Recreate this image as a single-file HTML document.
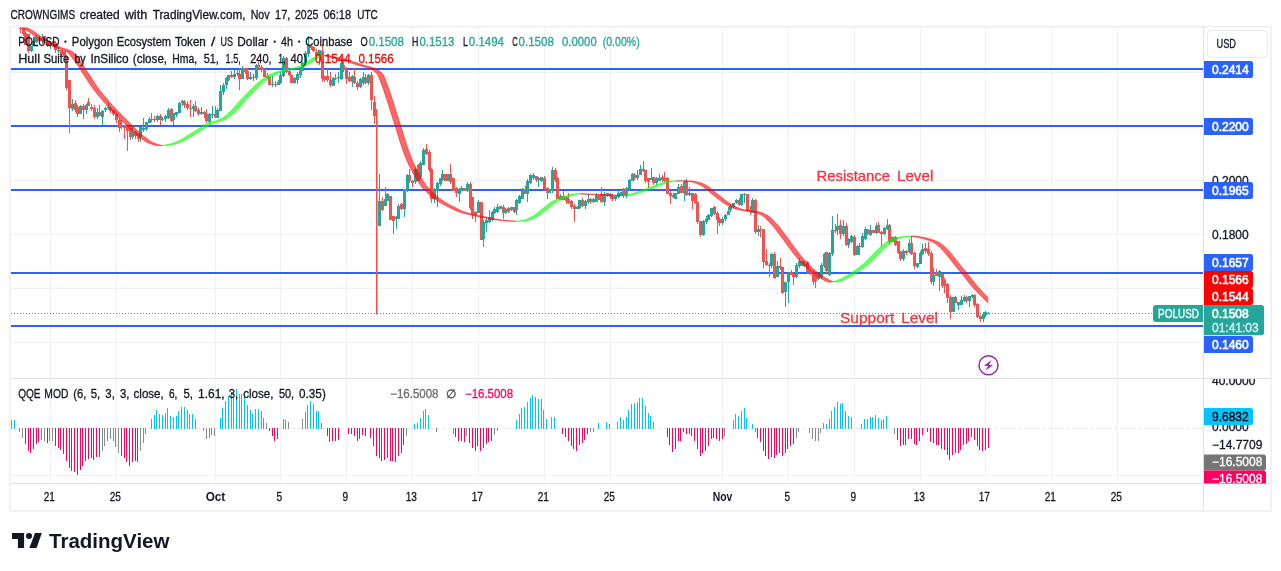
<!DOCTYPE html>
<html><head><meta charset="utf-8"><title>POLUSD chart</title><style>html,body{margin:0;padding:0;background:#fff;overflow:hidden}text{fill:currentColor;stroke:currentColor;stroke-width:.3px}.b{stroke-width:0}.sb{stroke-width:.6px}svg{display:block;will-change:transform;transform:translateZ(0)}</style></head><body><svg width="1281" height="571" viewBox="0 0 1281 571" font-family="Liberation Sans, sans-serif" color="#131722"><rect x="0" y="0" width="1281" height="571" fill="#ffffff"/>
<g font-size="12" fill="#131722" color="#131722">
<text x="10.5" y="18.8" textLength="64.6" lengthAdjust="spacingAndGlyphs">CROWNGIMS</text>
<text x="79.7" y="18.8" textLength="40.0" lengthAdjust="spacingAndGlyphs">created</text>
<text x="124.7" y="18.8" textLength="22.5" lengthAdjust="spacingAndGlyphs">with</text>
<text x="152.7" y="18.8" textLength="92.9" lengthAdjust="spacingAndGlyphs">TradingView.com,</text>
<text x="250.7" y="18.8" textLength="18.9" lengthAdjust="spacingAndGlyphs">Nov</text>
<text x="275.1" y="18.8" textLength="15.1" lengthAdjust="spacingAndGlyphs">17,</text>
<text x="295" y="18.8" textLength="23.5" lengthAdjust="spacingAndGlyphs">2025</text>
<text x="323.4" y="18.8" textLength="27.8" lengthAdjust="spacingAndGlyphs">06:18</text>
<text x="357.2" y="18.8" textLength="20.6" lengthAdjust="spacingAndGlyphs">UTC</text>
</g>
<path d="M50.5 26.5V483.5M116.5 26.5V483.5M215.5 26.5V483.5M280.5 26.5V483.5M346.5 26.5V483.5M412.5 26.5V483.5M478.5 26.5V483.5M544.5 26.5V483.5M610.5 26.5V483.5M722.5 26.5V483.5M788.5 26.5V483.5M854.5 26.5V483.5M920.5 26.5V483.5M985.5 26.5V483.5M1051.5 26.5V483.5M1117.5 26.5V483.5M10.5 72.5H1203.5M10.5 126.5H1203.5M10.5 180.5H1203.5M10.5 234.5H1203.5M10.5 288.5H1203.5M10.5 342.5H1203.5M10.5 475.5H1203.5" stroke="#f0f1f3" stroke-width="1" fill="none"/>
<defs><clipPath id="cm"><rect x="10.5" y="26.5" width="1193.0" height="352.0"/></clipPath><clipPath id="cs"><rect x="10.5" y="378.5" width="1193.0" height="105.0"/></clipPath><clipPath id="cb"><rect x="1203.5" y="379.0" width="67.0" height="105.0"/></clipPath><clipPath id="ca"><rect x="1203.5" y="26.5" width="67.0" height="457.0"/></clipPath></defs>
<line x1="10.5" x2="1203.5" y1="69.0" y2="69.0" stroke="#2962ff" stroke-width="2"/>
<line x1="10.5" x2="1203.5" y1="126.0" y2="126.0" stroke="#2962ff" stroke-width="2"/>
<line x1="10.5" x2="1203.5" y1="190.0" y2="190.0" stroke="#2962ff" stroke-width="2"/>
<line x1="10.5" x2="1203.5" y1="273.0" y2="273.0" stroke="#2962ff" stroke-width="2"/>
<line x1="10.5" x2="1203.5" y1="326.0" y2="326.0" stroke="#2962ff" stroke-width="2"/>
<g clip-path="url(#cm)">
<path d="M20 26h1V33h-1zM23 28h1V36h-1zM25 32h1V45h-1zM28 34h1V53h-1zM39 38h1V41h-1zM44 36h1V43h-1zM47 39h1V47h-1zM53 40h1V45h-1zM55 41h1V53h-1zM61 50h1V57h-1zM64 51h1V58h-1zM66 55h1V90h-1zM69 80h1V133h-1zM75 100h1V112h-1zM77 105h1V117h-1zM83 104h1V119h-1zM88 98h1V106h-1zM91 104h1V111h-1zM94 105h1V119h-1zM99 105h1V116h-1zM110 107h1V113h-1zM113 110h1V116h-1zM116 113h1V123h-1zM119 118h1V132h-1zM124 125h1V139h-1zM127 126h1V151h-1zM130 126h1V140h-1zM135 131h1V139h-1zM138 133h1V142h-1zM151 113h1V122h-1zM154 116h1V122h-1zM160 114h1V125h-1zM171 108h1V122h-1zM184 100h1V108h-1zM187 101h1V110h-1zM190 100h1V117h-1zM195 101h1V112h-1zM198 108h1V116h-1zM204 111h1V118h-1zM206 109h1V123h-1zM215 106h1V118h-1zM231 71h1V78h-1zM239 68h1V90h-1zM245 68h1V74h-1zM247 69h1V80h-1zM253 74h1V81h-1zM258 61h1V69h-1zM261 65h1V72h-1zM264 69h1V77h-1zM267 73h1V79h-1zM269 76h1V85h-1zM275 81h1V87h-1zM286 57h1V73h-1zM289 70h1V76h-1zM291 75h1V83h-1zM311 46h1V50h-1zM313 47h1V52h-1zM316 49h1V57h-1zM322 44h1V82h-1zM324 76h1V82h-1zM327 69h1V82h-1zM330 72h1V87h-1zM335 74h1V80h-1zM343 61h1V72h-1zM346 67h1V84h-1zM349 72h1V82h-1zM354 68h1V84h-1zM357 81h1V90h-1zM365 74h1V84h-1zM371 72h1V110h-1zM374 96h1V124h-1zM376 109h1V313h-1zM382 197h1V211h-1zM390 196h1V220h-1zM393 216h1V234h-1zM401 203h1V210h-1zM409 169h1V183h-1zM412 180h1V187h-1zM418 164h1V181h-1zM426 144h1V155h-1zM429 150h1V172h-1zM431 168h1V203h-1zM445 174h1V181h-1zM450 164h1V184h-1zM453 178h1V191h-1zM456 187h1V197h-1zM464 188h1V191h-1zM470 182h1V210h-1zM472 197h1V219h-1zM475 211h1V222h-1zM481 202h1V240h-1zM503 205h1V219h-1zM508 207h1V213h-1zM514 207h1V213h-1zM525 186h1V194h-1zM536 176h1V182h-1zM544 176h1V190h-1zM547 187h1V199h-1zM555 168h1V182h-1zM557 177h1V199h-1zM563 191h1V200h-1zM566 196h1V204h-1zM568 193h1V204h-1zM571 200h1V209h-1zM574 204h1V222h-1zM582 198h1V207h-1zM590 198h1V204h-1zM599 195h1V200h-1zM601 187h1V203h-1zM610 193h1V199h-1zM612 194h1V201h-1zM623 188h1V198h-1zM634 173h1V180h-1zM643 161h1V172h-1zM645 170h1V183h-1zM648 178h1V188h-1zM653 177h1V185h-1zM662 175h1V182h-1zM664 172h1V182h-1zM667 177h1V194h-1zM670 191h1V204h-1zM673 193h1V198h-1zM681 184h1V193h-1zM686 179h1V196h-1zM692 193h1V209h-1zM695 193h1V204h-1zM697 201h1V224h-1zM700 221h1V237h-1zM714 206h1V215h-1zM717 211h1V234h-1zM719 217h1V226h-1zM739 198h1V205h-1zM747 194h1V212h-1zM750 206h1V215h-1zM755 199h1V234h-1zM760 226h1V237h-1zM763 229h1V268h-1zM766 249h1V266h-1zM769 263h1V277h-1zM774 252h1V279h-1zM780 258h1V270h-1zM782 267h1V294h-1zM791 270h1V275h-1zM793 274h1V285h-1zM802 261h1V266h-1zM807 261h1V274h-1zM810 269h1V275h-1zM813 270h1V285h-1zM815 275h1V288h-1zM826 252h1V273h-1zM835 224h1V233h-1zM840 220h1V239h-1zM846 223h1V246h-1zM854 235h1V256h-1zM859 243h1V255h-1zM867 229h1V235h-1zM873 230h1V233h-1zM878 222h1V233h-1zM881 231h1V247h-1zM889 224h1V244h-1zM895 236h1V246h-1zM898 241h1V254h-1zM900 251h1V261h-1zM906 250h1V255h-1zM911 236h1V255h-1zM914 252h1V269h-1zM925 243h1V253h-1zM928 242h1V256h-1zM931 251h1V284h-1zM936 269h1V276h-1zM942 273h1V288h-1zM944 278h1V293h-1zM947 283h1V303h-1zM950 295h1V319h-1zM955 296h1V303h-1zM966 296h1V303h-1zM974 294h1V307h-1zM977 303h1V318h-1zM980 315h1V322h-1z" fill="#ef5350"/>
<path d="M31 46h1V52h-1zM33 39h1V46h-1zM36 35h1V43h-1zM42 34h1V44h-1zM50 43h1V49h-1zM58 46h1V53h-1zM72 99h1V111h-1zM80 105h1V114h-1zM86 104h1V114h-1zM97 108h1V119h-1zM102 110h1V125h-1zM105 107h1V112h-1zM108 102h1V110h-1zM121 120h1V129h-1zM132 125h1V139h-1zM140 127h1V142h-1zM143 118h1V132h-1zM146 122h1V131h-1zM149 117h1V123h-1zM157 115h1V122h-1zM162 117h1V121h-1zM165 115h1V122h-1zM168 108h1V119h-1zM173 113h1V125h-1zM176 112h1V117h-1zM179 102h1V113h-1zM182 100h1V106h-1zM193 104h1V117h-1zM201 107h1V115h-1zM209 113h1V124h-1zM212 106h1V118h-1zM217 108h1V118h-1zM220 85h1V111h-1zM223 83h1V95h-1zM226 77h1V89h-1zM228 75h1V81h-1zM234 70h1V79h-1zM237 70h1V76h-1zM242 66h1V79h-1zM250 72h1V80h-1zM256 64h1V80h-1zM272 76h1V87h-1zM278 80h1V85h-1zM280 72h1V84h-1zM283 56h1V77h-1zM294 77h1V84h-1zM297 72h1V84h-1zM300 67h1V78h-1zM302 62h1V71h-1zM305 51h1V65h-1zM308 36h1V57h-1zM319 50h1V65h-1zM333 77h1V86h-1zM338 72h1V83h-1zM341 61h1V80h-1zM352 75h1V87h-1zM360 78h1V88h-1zM363 72h1V85h-1zM368 74h1V85h-1zM379 174h1V226h-1zM385 187h1V206h-1zM387 193h1V201h-1zM396 216h1V229h-1zM398 204h1V219h-1zM404 189h1V217h-1zM407 174h1V192h-1zM415 167h1V184h-1zM420 161h1V179h-1zM423 148h1V165h-1zM434 188h1V203h-1zM437 182h1V207h-1zM440 178h1V186h-1zM442 170h1V181h-1zM448 174h1V181h-1zM459 188h1V202h-1zM461 186h1V191h-1zM467 182h1V192h-1zM478 200h1V213h-1zM483 220h1V247h-1zM486 218h1V232h-1zM489 210h1V223h-1zM492 211h1V221h-1zM494 207h1V214h-1zM497 204h1V213h-1zM500 206h1V209h-1zM505 208h1V214h-1zM511 207h1V211h-1zM516 199h1V215h-1zM519 195h1V204h-1zM522 188h1V199h-1zM527 179h1V202h-1zM530 174h1V184h-1zM533 173h1V180h-1zM538 177h1V187h-1zM541 177h1V182h-1zM549 189h1V193h-1zM552 167h1V193h-1zM560 194h1V200h-1zM577 206h1V209h-1zM579 200h1V209h-1zM585 200h1V209h-1zM588 194h1V204h-1zM593 198h1V203h-1zM596 193h1V202h-1zM604 192h1V206h-1zM607 193h1V197h-1zM615 196h1V201h-1zM618 190h1V198h-1zM621 192h1V195h-1zM626 187h1V198h-1zM629 179h1V191h-1zM632 173h1V181h-1zM637 170h1V180h-1zM640 165h1V175h-1zM651 168h1V180h-1zM656 177h1V185h-1zM659 174h1V181h-1zM675 193h1V199h-1zM678 184h1V194h-1zM684 180h1V201h-1zM689 187h1V196h-1zM703 220h1V236h-1zM706 216h1V224h-1zM708 214h1V220h-1zM711 208h1V217h-1zM722 217h1V225h-1zM725 214h1V221h-1zM728 207h1V215h-1zM730 204h1V212h-1zM733 203h1V208h-1zM736 199h1V204h-1zM741 194h1V206h-1zM744 193h1V203h-1zM752 198h1V213h-1zM758 225h1V236h-1zM771 253h1V268h-1zM777 261h1V277h-1zM785 282h1V307h-1zM788 272h1V303h-1zM796 263h1V278h-1zM799 258h1V268h-1zM804 261h1V267h-1zM818 273h1V280h-1zM821 263h1V279h-1zM824 253h1V268h-1zM829 252h1V276h-1zM832 216h1V256h-1zM837 214h1V235h-1zM843 220h1V236h-1zM848 238h1V248h-1zM851 235h1V243h-1zM857 245h1V255h-1zM862 233h1V248h-1zM865 227h1V240h-1zM870 225h1V236h-1zM876 223h1V234h-1zM884 227h1V235h-1zM887 219h1V230h-1zM892 237h1V242h-1zM903 249h1V261h-1zM909 239h1V253h-1zM917 263h1V268h-1zM920 251h1V264h-1zM922 244h1V255h-1zM933 268h1V286h-1zM939 270h1V291h-1zM953 297h1V312h-1zM958 302h1V310h-1zM961 296h1V305h-1zM964 295h1V302h-1zM969 296h1V307h-1zM972 294h1V298h-1zM983 312h1V322h-1zM985 311h1V317h-1zM988 312h1V314h-1z" fill="#26a69a"/>
<path d="M19 28h3V29h-3zM22 28h3V34h-3zM24 33h3V45h-3zM27 34h3V51h-3zM38 38h3V41h-3zM43 36h3V41h-3zM46 41h3V46h-3zM52 41h3V45h-3zM54 43h3V50h-3zM60 50h3V55h-3zM63 51h3V57h-3zM65 57h3V88h-3zM68 80h3V108h-3zM74 103h3V110h-3zM76 107h3V114h-3zM82 106h3V110h-3zM87 102h3V106h-3zM90 107h3V109h-3zM93 108h3V117h-3zM98 112h3V116h-3zM109 108h3V111h-3zM112 110h3V114h-3zM115 114h3V120h-3zM118 120h3V128h-3zM123 125h3V128h-3zM126 126h3V131h-3zM129 128h3V137h-3zM134 132h3V136h-3zM137 134h3V139h-3zM150 119h3V120h-3zM153 119h3V120h-3zM159 116h3V120h-3zM170 109h3V121h-3zM183 102h3V105h-3zM186 104h3V108h-3zM189 108h3V109h-3zM194 106h3V111h-3zM197 110h3V114h-3zM203 112h3V114h-3zM205 114h3V121h-3zM214 114h3V117h-3zM230 75h3V77h-3zM238 74h3V79h-3zM244 68h3V72h-3zM246 71h3V79h-3zM252 77h3V78h-3zM257 65h3V67h-3zM260 67h3V70h-3zM263 69h3V77h-3zM266 76h3V78h-3zM268 77h3V85h-3zM274 84h3V85h-3zM285 58h3V72h-3zM288 71h3V75h-3zM290 75h3V83h-3zM310 46h3V48h-3zM312 47h3V51h-3zM315 52h3V56h-3zM321 51h3V79h-3zM323 76h3V80h-3zM326 76h3V80h-3zM329 80h3V85h-3zM334 78h3V79h-3zM342 65h3V70h-3zM345 69h3V79h-3zM348 77h3V81h-3zM353 77h3V83h-3zM356 83h3V87h-3zM364 77h3V83h-3zM370 75h3V100h-3zM373 102h3V116h-3zM376 110h1.6V314.5h-1.6zM381 201h3V210h-3zM389 196h3V220h-3zM392 216h3V221h-3zM400 204h3V209h-3zM408 175h3V181h-3zM411 181h3V183h-3zM417 165h3V181h-3zM425 149h3V154h-3zM428 152h3V170h-3zM430 169h3V199h-3zM444 174h3V181h-3zM449 174h3V182h-3zM452 178h3V191h-3zM455 188h3V193h-3zM463 188h3V191h-3zM469 184h3V208h-3zM471 197h3V214h-3zM474 212h3V215h-3zM480 202h3V240h-3zM502 207h3V213h-3zM507 208h3V212h-3zM513 207h3V212h-3zM524 189h3V194h-3zM535 176h3V180h-3zM543 178h3V189h-3zM546 188h3V193h-3zM554 170h3V180h-3zM556 178h3V199h-3zM562 196h3V200h-3zM565 197h3V201h-3zM567 199h3V203h-3zM570 201h3V207h-3zM573 206h3V209h-3zM581 200h3V206h-3zM589 199h3V202h-3zM598 195h3V200h-3zM600 194h3V202h-3zM609 194h3V197h-3zM611 196h3V199h-3zM622 190h3V196h-3zM633 175h3V178h-3zM642 169h3V171h-3zM644 170h3V181h-3zM647 178h3V182h-3zM652 177h3V183h-3zM661 177h3V180h-3zM663 178h3V181h-3zM666 178h3V194h-3zM669 193h3V196h-3zM672 195h3V197h-3zM680 186h3V193h-3zM685 181h3V195h-3zM691 193h3V201h-3zM694 194h3V203h-3zM696 202h3V222h-3zM699 221h3V235h-3zM713 207h3V214h-3zM716 213h3V220h-3zM718 219h3V223h-3zM738 200h3V205h-3zM746 194h3V211h-3zM749 210h3V211h-3zM754 200h3V232h-3zM759 229h3V230h-3zM762 229h3V262h-3zM765 261h3V265h-3zM768 265h3V266h-3zM773 254h3V278h-3zM779 266h3V268h-3zM781 267h3V293h-3zM790 272h3V275h-3zM792 274h3V277h-3zM801 261h3V266h-3zM806 262h3V272h-3zM809 271h3V273h-3zM812 272h3V282h-3zM814 275h3V281h-3zM825 252h3V271h-3zM834 230h3V231h-3zM839 225h3V234h-3zM845 226h3V245h-3zM853 237h3V255h-3zM858 246h3V247h-3zM866 229h3V234h-3zM872 230h3V233h-3zM877 225h3V233h-3zM880 232h3V234h-3zM888 225h3V242h-3zM894 237h3V245h-3zM897 241h3V253h-3zM899 251h3V259h-3zM905 251h3V253h-3zM910 243h3V254h-3zM913 253h3V266h-3zM924 248h3V251h-3zM927 249h3V254h-3zM930 253h3V282h-3zM935 272h3V276h-3zM941 274h3V286h-3zM943 280h3V286h-3zM946 284h3V298h-3zM949 297h3V312h-3zM954 297h3V303h-3zM965 297h3V301h-3zM973 295h3V305h-3zM976 304h3V317h-3zM979 316h3V319h-3z" fill="#ef5350"/>
<path d="M30 46h3V51h-3zM32 41h3V46h-3zM35 37h3V42h-3zM41 38h3V41h-3zM49 43h3V44h-3zM57 50h3V51h-3zM71 104h3V109h-3zM79 106h3V114h-3zM85 105h3V110h-3zM96 112h3V117h-3zM101 111h3V117h-3zM104 108h3V110h-3zM107 107h3V108h-3zM120 125h3V126h-3zM131 132h3V137h-3zM139 127h3V137h-3zM142 128h3V130h-3zM145 122h3V129h-3zM148 119h3V123h-3zM156 116h3V120h-3zM161 119h3V120h-3zM164 116h3V119h-3zM167 110h3V118h-3zM172 113h3V120h-3zM175 112h3V115h-3zM178 103h3V113h-3zM181 101h3V103h-3zM192 106h3V109h-3zM200 112h3V114h-3zM208 114h3V122h-3zM211 114h3V115h-3zM216 110h3V118h-3zM219 91h3V111h-3zM222 85h3V92h-3zM225 78h3V85h-3zM227 75h3V80h-3zM233 74h3V77h-3zM236 73h3V74h-3zM241 68h3V79h-3zM249 77h3V79h-3zM255 65h3V78h-3zM271 84h3V85h-3zM277 82h3V85h-3zM279 75h3V83h-3zM282 58h3V76h-3zM293 78h3V83h-3zM296 74h3V80h-3zM299 71h3V75h-3zM301 63h3V71h-3zM304 53h3V63h-3zM307 46h3V54h-3zM318 50h3V56h-3zM332 78h3V86h-3zM337 77h3V78h-3zM340 63h3V79h-3zM351 76h3V82h-3zM359 79h3V87h-3zM362 77h3V83h-3zM367 75h3V83h-3zM378 201h3V226h-3zM384 199h3V206h-3zM386 194h3V201h-3zM395 217h3V219h-3zM397 206h3V219h-3zM403 189h3V209h-3zM406 175h3V190h-3zM414 169h3V182h-3zM419 163h3V177h-3zM422 150h3V165h-3zM433 189h3V199h-3zM436 183h3V191h-3zM439 178h3V184h-3zM441 174h3V180h-3zM447 174h3V181h-3zM458 190h3V194h-3zM460 188h3V191h-3zM466 184h3V191h-3zM477 202h3V213h-3zM482 222h3V239h-3zM485 220h3V223h-3zM488 217h3V222h-3zM491 212h3V220h-3zM493 209h3V213h-3zM496 207h3V212h-3zM499 206h3V209h-3zM504 209h3V213h-3zM510 207h3V210h-3zM515 200h3V210h-3zM518 196h3V203h-3zM521 190h3V199h-3zM526 181h3V194h-3zM529 175h3V183h-3zM532 175h3V178h-3zM537 178h3V180h-3zM540 177h3V181h-3zM548 190h3V193h-3zM551 170h3V191h-3zM559 196h3V200h-3zM576 207h3V209h-3zM578 200h3V208h-3zM584 201h3V206h-3zM587 199h3V202h-3zM592 199h3V202h-3zM595 195h3V202h-3zM603 194h3V202h-3zM606 193h3V196h-3zM614 196h3V199h-3zM617 193h3V197h-3zM620 192h3V195h-3zM625 188h3V196h-3zM628 180h3V189h-3zM631 174h3V181h-3zM636 175h3V178h-3zM639 169h3V175h-3zM650 178h3V180h-3zM655 178h3V183h-3zM658 178h3V181h-3zM674 193h3V199h-3zM677 187h3V194h-3zM683 182h3V193h-3zM688 193h3V195h-3zM702 221h3V235h-3zM705 219h3V222h-3zM707 215h3V220h-3zM710 208h3V216h-3zM721 219h3V223h-3zM724 215h3V219h-3zM727 211h3V215h-3zM729 206h3V210h-3zM732 203h3V207h-3zM735 200h3V203h-3zM740 194h3V205h-3zM743 194h3V195h-3zM751 200h3V213h-3zM757 229h3V232h-3zM770 254h3V266h-3zM776 266h3V277h-3zM784 282h3V292h-3zM787 273h3V282h-3zM795 265h3V277h-3zM798 261h3V266h-3zM803 264h3V266h-3zM817 274h3V279h-3zM820 265h3V277h-3zM823 254h3V266h-3zM828 253h3V275h-3zM831 230h3V254h-3zM836 226h3V230h-3zM842 226h3V234h-3zM847 239h3V245h-3zM850 236h3V242h-3zM856 246h3V255h-3zM861 236h3V247h-3zM864 229h3V239h-3zM869 230h3V235h-3zM875 226h3V233h-3zM883 228h3V234h-3zM886 225h3V229h-3zM891 237h3V242h-3zM902 251h3V259h-3zM908 243h3V252h-3zM916 263h3V267h-3zM919 253h3V264h-3zM921 249h3V254h-3zM932 275h3V282h-3zM938 271h3V277h-3zM952 297h3V312h-3zM957 302h3V305h-3zM960 300h3V305h-3zM963 297h3V301h-3zM968 296h3V301h-3zM971 295h3V297h-3zM982 314h3V319h-3zM984 312h3V315h-3zM987 313h3V314h-3z" fill="#26a69a"/>
<polygon points="14.0,22.7 14.5,23.0 15.0,23.4 15.5,23.8 16.0,24.1 16.5,24.4 17.0,24.8 17.5,25.1 18.0,25.4 18.5,25.7 19.0,26.0 19.5,26.3 20.0,26.6 20.5,26.9 21.0,27.2 21.5,27.5 22.0,27.8 22.5,28.1 23.0,28.3 23.5,28.6 24.0,28.9 24.5,29.2 25.0,29.5 25.5,29.8 26.0,30.1 26.5,30.4 27.0,30.7 27.5,31.0 28.0,31.3 28.5,31.7 29.0,32.0 29.5,32.3 30.0,32.7 30.5,33.1 31.0,33.4 31.5,33.8 32.0,34.1 32.5,34.5 33.0,34.9 33.5,35.2 34.0,35.6 34.5,35.9 35.0,36.3 35.5,36.7 36.0,37.0 36.5,37.3 37.0,37.7 37.5,38.0 38.0,38.3 38.5,38.7 39.0,39.0 39.5,39.3 40.0,39.7 40.5,40.0 41.0,40.3 41.5,40.7 42.0,41.0 42.5,41.3 43.0,41.6 43.5,41.9 44.0,42.2 44.5,42.5 45.0,42.8 45.5,43.1 46.0,43.4 46.5,43.6 47.0,43.9 47.5,44.1 48.0,44.4 48.5,44.6 49.0,44.9 49.5,45.1 50.0,45.3 50.5,45.5 51.0,45.8 51.5,46.0 52.0,46.2 52.5,46.4 53.0,46.6 53.5,46.8 54.0,47.0 54.5,47.2 55.0,47.4 55.5,47.6 56.0,47.8 56.5,47.9 57.0,48.1 57.5,48.3 58.0,48.5 58.5,48.6 59.0,48.8 59.5,48.9 60.0,49.1 60.5,49.2 61.0,49.4 61.5,49.5 62.0,49.6 62.5,49.8 63.0,50.0 63.5,50.1 64.0,50.3 64.5,50.5 65.0,50.7 65.5,50.9 66.0,51.2 66.5,51.5 67.0,51.8 67.5,52.2 68.0,52.7 68.5,53.2 69.0,53.7 69.5,54.3 70.0,54.9 70.5,55.5 71.0,56.2 71.5,56.8 72.0,57.5 72.5,58.1 73.0,58.8 73.5,59.4 74.0,60.1 74.5,60.7 75.0,61.4 75.5,62.1 76.0,62.9 76.5,63.6 77.0,64.4 77.5,65.1 78.0,65.9 78.5,66.7 79.0,67.4 79.5,68.2 80.0,69.0 80.5,69.8 81.0,70.6 81.5,71.4 82.0,72.1 82.5,72.9 83.0,73.7 83.5,74.4 84.0,75.2 84.5,75.9 85.0,76.7 85.5,77.5 86.0,78.3 86.5,79.1 87.0,79.9 87.5,80.6 88.0,81.4 88.5,82.2 89.0,82.9 89.5,83.7 90.0,84.5 90.5,85.2 91.0,85.9 91.5,86.6 92.0,87.3 92.5,88.0 93.0,88.7 93.5,89.3 94.0,90.0 94.5,90.6 95.0,91.3 95.5,91.9 96.0,92.5 96.5,93.2 97.0,93.8 97.5,94.4 98.0,95.0 98.5,95.6 99.0,96.2 99.5,96.8 100.0,97.4 100.5,98.0 101.0,98.6 101.5,99.1 102.0,99.7 102.5,100.3 103.0,100.9 103.5,101.5 104.0,102.1 104.5,102.6 105.0,103.2 105.5,103.8 106.0,104.3 106.5,104.9 107.0,105.4 107.5,106.0 108.0,106.5 108.5,107.1 109.0,107.6 109.5,108.2 110.0,108.7 110.5,109.3 111.0,109.8 111.5,110.3 112.0,110.8 112.5,111.4 113.0,111.9 113.5,112.4 114.0,112.9 114.5,113.4 115.0,113.9 115.5,114.4 116.0,114.9 116.5,115.4 117.0,115.9 117.5,116.4 118.0,116.9 118.5,117.4 119.0,117.9 119.5,118.4 120.0,118.9 120.5,119.4 121.0,119.9 121.5,120.4 122.0,120.9 122.5,121.4 123.0,121.9 123.5,122.4 124.0,122.9 124.5,123.4 125.0,123.9 125.5,124.4 126.0,124.9 126.5,125.4 127.0,125.9 127.5,126.4 128.0,126.9 128.5,127.4 129.0,127.9 129.5,128.3 130.0,128.8 130.5,129.3 131.0,129.7 131.5,130.2 132.0,130.7 132.5,131.2 133.0,131.6 133.5,132.1 134.0,132.6 134.5,133.0 135.0,133.5 135.5,133.9 136.0,134.4 136.5,134.8 137.0,135.2 137.5,135.7 138.0,136.1 138.5,136.5 139.0,136.9 139.5,137.2 140.0,137.6 140.5,138.0 141.0,138.3 141.5,138.7 142.0,139.1 142.5,139.4 143.0,139.8 143.5,140.1 144.0,140.5 144.5,140.8 145.0,141.1 145.5,141.5 146.0,141.8 146.5,142.0 147.0,142.3 147.5,142.6 148.0,142.8 148.5,143.0 149.0,143.2 149.5,143.4 150.0,143.6 150.5,143.7 151.0,143.9 151.5,144.1 152.0,144.3 152.5,144.4 153.0,144.6 153.5,144.8 154.0,144.9 154.5,145.0 155.0,145.2 155.5,145.3 156.0,145.4 156.5,145.4 157.0,145.5 157.5,145.6 158.0,145.6 158.5,145.6 159.0,145.6 159.5,145.6 160.0,145.6 160.5,145.5 161.0,145.5 161.5,145.4 162.0,145.4 162.0,145.4 161.5,145.3 161.0,145.2 160.5,145.1 160.0,145.0 159.5,144.9 159.0,144.7 158.5,144.6 158.0,144.4 157.5,144.2 157.0,144.1 156.5,143.9 156.0,143.7 155.5,143.5 155.0,143.3 154.5,143.2 154.0,143.0 153.5,142.8 153.0,142.5 152.5,142.3 152.0,142.0 151.5,141.7 151.0,141.4 150.5,141.1 150.0,140.8 149.5,140.4 149.0,140.1 148.5,139.7 148.0,139.4 147.5,139.0 147.0,138.6 146.5,138.3 146.0,137.9 145.5,137.5 145.0,137.2 144.5,136.8 144.0,136.4 143.5,136.0 143.0,135.6 142.5,135.1 142.0,134.7 141.5,134.3 141.0,133.8 140.5,133.4 140.0,132.9 139.5,132.5 139.0,132.0 138.5,131.5 138.0,131.1 137.5,130.6 137.0,130.1 136.5,129.7 136.0,129.2 135.5,128.7 135.0,128.2 134.5,127.8 134.0,127.3 133.5,126.8 133.0,126.3 132.5,125.8 132.0,125.3 131.5,124.8 131.0,124.3 130.5,123.8 130.0,123.3 129.5,122.8 129.0,122.3 128.5,121.8 128.0,121.3 127.5,120.8 127.0,120.3 126.5,119.8 126.0,119.3 125.5,118.8 125.0,118.3 124.5,117.8 124.0,117.3 123.5,116.8 123.0,116.3 122.5,115.8 122.0,115.3 121.5,114.8 121.0,114.3 120.5,113.8 120.0,113.3 119.5,112.8 119.0,112.3 118.5,111.8 118.0,111.3 117.5,110.7 117.0,110.2 116.5,109.7 116.0,109.1 115.5,108.6 115.0,108.1 114.5,107.5 114.0,107.0 113.5,106.4 113.0,105.9 112.5,105.3 112.0,104.8 111.5,104.2 111.0,103.6 110.5,103.1 110.0,102.5 109.5,101.9 109.0,101.4 108.5,100.8 108.0,100.2 107.5,99.6 107.0,99.0 106.5,98.4 106.0,97.9 105.5,97.3 105.0,96.7 104.5,96.1 104.0,95.5 103.5,94.9 103.0,94.3 102.5,93.7 102.0,93.0 101.5,92.4 101.0,91.8 100.5,91.2 100.0,90.5 99.5,89.9 99.0,89.2 98.5,88.5 98.0,87.9 97.5,87.2 97.0,86.5 96.5,85.8 96.0,85.0 95.5,84.3 95.0,83.6 94.5,82.8 94.0,82.0 93.5,81.3 93.0,80.5 92.5,79.7 92.0,78.9 91.5,78.1 91.0,77.4 90.5,76.6 90.0,75.8 89.5,75.0 89.0,74.3 88.5,73.5 88.0,72.7 87.5,72.0 87.0,71.2 86.5,70.4 86.0,69.6 85.5,68.9 85.0,68.1 84.5,67.3 84.0,66.5 83.5,65.7 83.0,65.0 82.5,64.2 82.0,63.5 81.5,62.7 81.0,62.0 80.5,61.3 80.0,60.6 79.5,59.9 79.0,59.3 78.5,58.7 78.0,58.0 77.5,57.3 77.0,56.7 76.5,56.0 76.0,55.4 75.5,54.8 75.0,54.2 74.5,53.6 74.0,53.1 73.5,52.6 73.0,52.1 72.5,51.7 72.0,51.4 71.5,51.1 71.0,50.9 70.5,50.7 70.0,50.5 69.5,50.3 69.0,50.1 68.5,49.9 68.0,49.8 67.5,49.6 67.0,49.5 66.5,49.3 66.0,49.2 65.5,49.1 65.0,48.9 64.5,48.8 64.0,48.6 63.5,48.5 63.0,48.3 62.5,48.1 62.0,47.9 61.5,47.7 61.0,47.5 60.5,47.3 60.0,47.1 59.5,46.9 59.0,46.7 58.5,46.5 58.0,46.3 57.5,46.1 57.0,45.9 56.5,45.7 56.0,45.5 55.5,45.3 55.0,45.0 54.5,44.8 54.0,44.6 53.5,44.3 53.0,44.1 52.5,43.9 52.0,43.6 51.5,43.3 51.0,43.1 50.5,42.8 50.0,42.5 49.5,42.2 49.0,41.9 48.5,41.6 48.0,41.2 47.5,40.9 47.0,40.6 46.5,40.3 46.0,39.9 45.5,39.6 45.0,39.3 44.5,38.9 44.0,38.6 43.5,38.3 43.0,37.9 42.5,37.6 42.0,37.3 41.5,36.9 41.0,36.6 40.5,36.2 40.0,35.9 39.5,35.5 39.0,35.2 38.5,34.8 38.0,34.4 37.5,34.1 37.0,33.7 36.5,33.3 36.0,33.0 35.5,32.6 35.0,32.3 34.5,31.9 34.0,31.6 33.5,31.3 33.0,30.9 32.5,30.6 32.0,30.3 31.5,30.0 31.0,29.7 30.5,29.4 30.0,29.1 29.5,28.9 29.0,28.6 28.5,28.3 28.0,28.0 27.5,27.7 27.0,27.4 26.5,27.1 26.0,26.8 25.5,26.5 25.0,26.2 24.5,25.9 24.0,25.6 23.5,25.3 23.0,25.0 22.5,24.7 22.0,24.4 21.5,24.0 21.0,23.7 20.5,23.3 20.0,23.0 19.5,22.6 19.0,22.2 18.5,21.8 18.0,21.5 17.5,21.1 17.0,20.7 16.5,20.4 16.0,20.2 15.5,20.0 15.0,19.8 14.5,19.6 14.0,19.4" fill="#ff0000" fill-opacity="0.6"/>
<polyline points="14.0,22.7 14.5,23.0 15.0,23.4 15.5,23.8 16.0,24.1 16.5,24.4 17.0,24.8 17.5,25.1 18.0,25.4 18.5,25.7 19.0,26.0 19.5,26.3 20.0,26.6 20.5,26.9 21.0,27.2 21.5,27.5 22.0,27.8 22.5,28.1 23.0,28.3 23.5,28.6 24.0,28.9 24.5,29.2 25.0,29.5 25.5,29.8 26.0,30.1 26.5,30.4 27.0,30.7 27.5,31.0 28.0,31.3 28.5,31.7 29.0,32.0 29.5,32.3 30.0,32.7 30.5,33.1 31.0,33.4 31.5,33.8 32.0,34.1 32.5,34.5 33.0,34.9 33.5,35.2 34.0,35.6 34.5,35.9 35.0,36.3 35.5,36.7 36.0,37.0 36.5,37.3 37.0,37.7 37.5,38.0 38.0,38.3 38.5,38.7 39.0,39.0 39.5,39.3 40.0,39.7 40.5,40.0 41.0,40.3 41.5,40.7 42.0,41.0 42.5,41.3 43.0,41.6 43.5,41.9 44.0,42.2 44.5,42.5 45.0,42.8 45.5,43.1 46.0,43.4 46.5,43.6 47.0,43.9 47.5,44.1 48.0,44.4 48.5,44.6 49.0,44.9 49.5,45.1 50.0,45.3 50.5,45.5 51.0,45.8 51.5,46.0 52.0,46.2 52.5,46.4 53.0,46.6 53.5,46.8 54.0,47.0 54.5,47.2 55.0,47.4 55.5,47.6 56.0,47.8 56.5,47.9 57.0,48.1 57.5,48.3 58.0,48.5 58.5,48.6 59.0,48.8 59.5,48.9 60.0,49.1 60.5,49.2 61.0,49.4 61.5,49.5 62.0,49.6 62.5,49.8 63.0,50.0 63.5,50.1 64.0,50.3 64.5,50.5 65.0,50.7 65.5,50.9 66.0,51.2 66.5,51.5 67.0,51.8 67.5,52.2 68.0,52.7 68.5,53.2 69.0,53.7 69.5,54.3 70.0,54.9 70.5,55.5 71.0,56.2 71.5,56.8 72.0,57.5 72.5,58.1 73.0,58.8 73.5,59.4 74.0,60.1 74.5,60.7 75.0,61.4 75.5,62.1 76.0,62.9 76.5,63.6 77.0,64.4 77.5,65.1 78.0,65.9 78.5,66.7 79.0,67.4 79.5,68.2 80.0,69.0 80.5,69.8 81.0,70.6 81.5,71.4 82.0,72.1 82.5,72.9 83.0,73.7 83.5,74.4 84.0,75.2 84.5,75.9 85.0,76.7 85.5,77.5 86.0,78.3 86.5,79.1 87.0,79.9 87.5,80.6 88.0,81.4 88.5,82.2 89.0,82.9 89.5,83.7 90.0,84.5 90.5,85.2 91.0,85.9 91.5,86.6 92.0,87.3 92.5,88.0 93.0,88.7 93.5,89.3 94.0,90.0 94.5,90.6 95.0,91.3 95.5,91.9 96.0,92.5 96.5,93.2 97.0,93.8 97.5,94.4 98.0,95.0 98.5,95.6 99.0,96.2 99.5,96.8 100.0,97.4 100.5,98.0 101.0,98.6 101.5,99.1 102.0,99.7 102.5,100.3 103.0,100.9 103.5,101.5 104.0,102.1 104.5,102.6 105.0,103.2 105.5,103.8 106.0,104.3 106.5,104.9 107.0,105.4 107.5,106.0 108.0,106.5 108.5,107.1 109.0,107.6 109.5,108.2 110.0,108.7 110.5,109.3 111.0,109.8 111.5,110.3 112.0,110.8 112.5,111.4 113.0,111.9 113.5,112.4 114.0,112.9 114.5,113.4 115.0,113.9 115.5,114.4 116.0,114.9 116.5,115.4 117.0,115.9 117.5,116.4 118.0,116.9 118.5,117.4 119.0,117.9 119.5,118.4 120.0,118.9 120.5,119.4 121.0,119.9 121.5,120.4 122.0,120.9 122.5,121.4 123.0,121.9 123.5,122.4 124.0,122.9 124.5,123.4 125.0,123.9 125.5,124.4 126.0,124.9 126.5,125.4 127.0,125.9 127.5,126.4 128.0,126.9 128.5,127.4 129.0,127.9 129.5,128.3 130.0,128.8 130.5,129.3 131.0,129.7 131.5,130.2 132.0,130.7 132.5,131.2 133.0,131.6 133.5,132.1 134.0,132.6 134.5,133.0 135.0,133.5 135.5,133.9 136.0,134.4 136.5,134.8 137.0,135.2 137.5,135.7 138.0,136.1 138.5,136.5 139.0,136.9 139.5,137.2 140.0,137.6 140.5,138.0 141.0,138.3 141.5,138.7 142.0,139.1 142.5,139.4 143.0,139.8 143.5,140.1 144.0,140.5 144.5,140.8 145.0,141.1 145.5,141.5 146.0,141.8 146.5,142.0 147.0,142.3 147.5,142.6 148.0,142.8 148.5,143.0 149.0,143.2 149.5,143.4 150.0,143.6 150.5,143.7 151.0,143.9 151.5,144.1 152.0,144.3 152.5,144.4 153.0,144.6 153.5,144.8 154.0,144.9 154.5,145.0 155.0,145.2 155.5,145.3 156.0,145.4 156.5,145.4 157.0,145.5 157.5,145.6 158.0,145.6 158.5,145.6 159.0,145.6 159.5,145.6 160.0,145.6 160.5,145.5 161.0,145.5 161.5,145.4 162.0,145.4" fill="none" stroke="#ff0000" stroke-opacity="0.5" stroke-width="1"/>
<polyline points="14.0,19.4 14.5,19.6 15.0,19.8 15.5,20.0 16.0,20.2 16.5,20.4 17.0,20.7 17.5,21.1 18.0,21.5 18.5,21.8 19.0,22.2 19.5,22.6 20.0,23.0 20.5,23.3 21.0,23.7 21.5,24.0 22.0,24.4 22.5,24.7 23.0,25.0 23.5,25.3 24.0,25.6 24.5,25.9 25.0,26.2 25.5,26.5 26.0,26.8 26.5,27.1 27.0,27.4 27.5,27.7 28.0,28.0 28.5,28.3 29.0,28.6 29.5,28.9 30.0,29.1 30.5,29.4 31.0,29.7 31.5,30.0 32.0,30.3 32.5,30.6 33.0,30.9 33.5,31.3 34.0,31.6 34.5,31.9 35.0,32.3 35.5,32.6 36.0,33.0 36.5,33.3 37.0,33.7 37.5,34.1 38.0,34.4 38.5,34.8 39.0,35.2 39.5,35.5 40.0,35.9 40.5,36.2 41.0,36.6 41.5,36.9 42.0,37.3 42.5,37.6 43.0,37.9 43.5,38.3 44.0,38.6 44.5,38.9 45.0,39.3 45.5,39.6 46.0,39.9 46.5,40.3 47.0,40.6 47.5,40.9 48.0,41.2 48.5,41.6 49.0,41.9 49.5,42.2 50.0,42.5 50.5,42.8 51.0,43.1 51.5,43.3 52.0,43.6 52.5,43.9 53.0,44.1 53.5,44.3 54.0,44.6 54.5,44.8 55.0,45.0 55.5,45.3 56.0,45.5 56.5,45.7 57.0,45.9 57.5,46.1 58.0,46.3 58.5,46.5 59.0,46.7 59.5,46.9 60.0,47.1 60.5,47.3 61.0,47.5 61.5,47.7 62.0,47.9 62.5,48.1 63.0,48.3 63.5,48.5 64.0,48.6 64.5,48.8 65.0,48.9 65.5,49.1 66.0,49.2 66.5,49.3 67.0,49.5 67.5,49.6 68.0,49.8 68.5,49.9 69.0,50.1 69.5,50.3 70.0,50.5 70.5,50.7 71.0,50.9 71.5,51.1 72.0,51.4 72.5,51.7 73.0,52.1 73.5,52.6 74.0,53.1 74.5,53.6 75.0,54.2 75.5,54.8 76.0,55.4 76.5,56.0 77.0,56.7 77.5,57.3 78.0,58.0 78.5,58.7 79.0,59.3 79.5,59.9 80.0,60.6 80.5,61.3 81.0,62.0 81.5,62.7 82.0,63.5 82.5,64.2 83.0,65.0 83.5,65.7 84.0,66.5 84.5,67.3 85.0,68.1 85.5,68.9 86.0,69.6 86.5,70.4 87.0,71.2 87.5,72.0 88.0,72.7 88.5,73.5 89.0,74.3 89.5,75.0 90.0,75.8 90.5,76.6 91.0,77.4 91.5,78.1 92.0,78.9 92.5,79.7 93.0,80.5 93.5,81.3 94.0,82.0 94.5,82.8 95.0,83.6 95.5,84.3 96.0,85.0 96.5,85.8 97.0,86.5 97.5,87.2 98.0,87.9 98.5,88.5 99.0,89.2 99.5,89.9 100.0,90.5 100.5,91.2 101.0,91.8 101.5,92.4 102.0,93.0 102.5,93.7 103.0,94.3 103.5,94.9 104.0,95.5 104.5,96.1 105.0,96.7 105.5,97.3 106.0,97.9 106.5,98.4 107.0,99.0 107.5,99.6 108.0,100.2 108.5,100.8 109.0,101.4 109.5,101.9 110.0,102.5 110.5,103.1 111.0,103.6 111.5,104.2 112.0,104.8 112.5,105.3 113.0,105.9 113.5,106.4 114.0,107.0 114.5,107.5 115.0,108.1 115.5,108.6 116.0,109.1 116.5,109.7 117.0,110.2 117.5,110.7 118.0,111.3 118.5,111.8 119.0,112.3 119.5,112.8 120.0,113.3 120.5,113.8 121.0,114.3 121.5,114.8 122.0,115.3 122.5,115.8 123.0,116.3 123.5,116.8 124.0,117.3 124.5,117.8 125.0,118.3 125.5,118.8 126.0,119.3 126.5,119.8 127.0,120.3 127.5,120.8 128.0,121.3 128.5,121.8 129.0,122.3 129.5,122.8 130.0,123.3 130.5,123.8 131.0,124.3 131.5,124.8 132.0,125.3 132.5,125.8 133.0,126.3 133.5,126.8 134.0,127.3 134.5,127.8 135.0,128.2 135.5,128.7 136.0,129.2 136.5,129.7 137.0,130.1 137.5,130.6 138.0,131.1 138.5,131.5 139.0,132.0 139.5,132.5 140.0,132.9 140.5,133.4 141.0,133.8 141.5,134.3 142.0,134.7 142.5,135.1 143.0,135.6 143.5,136.0 144.0,136.4 144.5,136.8 145.0,137.2 145.5,137.5 146.0,137.9 146.5,138.3 147.0,138.6 147.5,139.0 148.0,139.4 148.5,139.7 149.0,140.1 149.5,140.4 150.0,140.8 150.5,141.1 151.0,141.4 151.5,141.7 152.0,142.0 152.5,142.3 153.0,142.5 153.5,142.8 154.0,143.0 154.5,143.2 155.0,143.3 155.5,143.5 156.0,143.7 156.5,143.9 157.0,144.1 157.5,144.2 158.0,144.4 158.5,144.6 159.0,144.7 159.5,144.9 160.0,145.0 160.5,145.1 161.0,145.2 161.5,145.3 162.0,145.4" fill="none" stroke="#ff0000" stroke-opacity="0.5" stroke-width="1"/>
<polygon points="162.0,145.4 162.5,145.3 163.0,145.3 163.5,145.2 164.0,145.1 164.5,145.0 165.0,144.9 165.5,144.9 166.0,144.8 166.5,144.7 167.0,144.6 167.5,144.5 168.0,144.4 168.5,144.3 169.0,144.2 169.5,144.1 170.0,144.0 170.5,143.8 171.0,143.7 171.5,143.5 172.0,143.4 172.5,143.2 173.0,143.0 173.5,142.8 174.0,142.7 174.5,142.5 175.0,142.3 175.5,142.1 176.0,141.9 176.5,141.7 177.0,141.5 177.5,141.3 178.0,141.0 178.5,140.8 179.0,140.6 179.5,140.3 180.0,140.1 180.5,139.8 181.0,139.5 181.5,139.2 182.0,138.9 182.5,138.7 183.0,138.4 183.5,138.1 184.0,137.7 184.5,137.4 185.0,137.1 185.5,136.8 186.0,136.5 186.5,136.2 187.0,135.9 187.5,135.6 188.0,135.3 188.5,135.0 189.0,134.7 189.5,134.4 190.0,134.1 190.5,133.8 191.0,133.5 191.5,133.2 192.0,132.8 192.5,132.5 193.0,132.2 193.5,131.9 194.0,131.6 194.5,131.3 195.0,130.9 195.5,130.6 196.0,130.3 196.5,130.0 197.0,129.7 197.5,129.4 198.0,129.1 198.5,128.7 199.0,128.4 199.5,128.1 200.0,127.7 200.5,127.4 201.0,127.1 201.5,126.7 202.0,126.4 202.5,126.1 203.0,125.8 203.5,125.5 204.0,125.2 204.5,124.9 205.0,124.6 205.5,124.3 206.0,124.1 206.5,123.8 207.0,123.6 207.5,123.4 208.0,123.2 208.5,123.0 209.0,122.9 209.5,122.7 210.0,122.5 210.5,122.4 211.0,122.3 211.5,122.1 212.0,122.0 212.5,121.9 213.0,121.7 213.5,121.6 214.0,121.5 214.5,121.3 215.0,121.2 215.5,121.0 216.0,120.9 216.5,120.7 217.0,120.6 217.5,120.4 218.0,120.2 218.5,120.0 219.0,119.8 219.5,119.5 220.0,119.3 220.5,119.0 221.0,118.8 221.5,118.5 222.0,118.2 222.5,117.9 223.0,117.6 223.5,117.3 224.0,116.9 224.5,116.5 225.0,116.1 225.5,115.7 226.0,115.3 226.5,114.8 227.0,114.4 227.5,114.0 228.0,113.5 228.5,113.1 229.0,112.6 229.5,112.1 230.0,111.7 230.5,111.2 231.0,110.7 231.5,110.2 232.0,109.6 232.5,109.1 233.0,108.6 233.5,108.0 234.0,107.5 234.5,106.9 235.0,106.3 235.5,105.7 236.0,105.1 236.5,104.5 237.0,103.9 237.5,103.4 238.0,102.8 238.5,102.2 239.0,101.7 239.5,101.1 240.0,100.6 240.5,100.1 241.0,99.5 241.5,99.0 242.0,98.5 242.5,97.9 243.0,97.4 243.5,96.9 244.0,96.4 244.5,95.8 245.0,95.3 245.5,94.8 246.0,94.3 246.5,93.8 247.0,93.3 247.5,92.8 248.0,92.3 248.5,91.8 249.0,91.3 249.5,90.8 250.0,90.3 250.5,89.8 251.0,89.3 251.5,88.8 252.0,88.3 252.5,87.8 253.0,87.3 253.5,86.8 254.0,86.3 254.5,85.8 255.0,85.3 255.5,84.9 256.0,84.4 256.5,83.9 257.0,83.4 257.5,83.0 258.0,82.6 258.5,82.1 259.0,81.7 259.5,81.3 260.0,80.9 260.5,80.5 261.0,80.1 261.5,79.8 262.0,79.4 262.5,79.0 263.0,78.7 263.5,78.3 264.0,78.0 264.5,77.6 265.0,77.3 265.5,76.9 266.0,76.6 266.5,76.3 267.0,75.9 267.5,75.6 268.0,75.4 268.5,75.1 269.0,74.9 269.5,74.6 270.0,74.4 270.5,74.2 271.0,74.0 271.5,73.8 272.0,73.7 272.5,73.5 273.0,73.3 273.5,73.1 274.0,72.9 274.5,72.7 275.0,72.5 275.5,72.3 276.0,72.2 276.5,72.0 277.0,71.8 277.5,71.6 278.0,71.5 278.5,71.3 279.0,71.2 279.5,71.1 280.0,70.9 280.5,70.8 281.0,70.7 281.5,70.6 282.0,70.5 282.5,70.3 283.0,70.2 283.5,70.1 284.0,70.0 284.5,69.9 285.0,69.8 285.5,69.7 286.0,69.6 286.5,69.5 287.0,69.4 287.5,69.3 288.0,69.2 288.5,69.1 289.0,69.0 289.5,68.8 290.0,68.7 290.5,68.6 291.0,68.5 291.5,68.4 292.0,68.3 292.5,68.2 293.0,68.1 293.5,68.0 294.0,67.9 294.5,67.8 295.0,67.6 295.5,67.5 296.0,67.4 296.5,67.2 297.0,67.1 297.5,67.0 298.0,66.8 298.5,66.6 299.0,66.5 299.5,66.3 300.0,66.0 300.5,65.8 301.0,65.5 301.5,65.2 302.0,64.9 302.5,64.6 303.0,64.4 303.5,64.1 304.0,63.8 304.5,63.5 305.0,63.1 305.5,62.8 306.0,62.5 306.5,62.1 307.0,61.8 307.5,61.4 308.0,61.1 308.5,60.7 309.0,60.4 309.5,60.1 310.0,59.7 310.5,59.4 311.0,59.1 311.5,58.8 312.0,58.5 312.5,58.2 313.0,58.0 313.5,57.8 314.0,57.5 314.5,57.3 315.0,57.0 315.5,56.8 316.0,56.5 316.5,56.3 317.0,56.1 317.5,55.9 318.0,55.7 318.5,55.5 319.0,55.4 319.5,55.3 320.0,55.3 320.5,55.3 321.0,55.3 321.5,55.4 322.0,55.4 322.5,55.5 323.0,55.5 323.5,55.6 324.0,55.7 324.0,55.6 323.5,55.7 323.0,55.9 322.5,56.1 322.0,56.3 321.5,56.6 321.0,56.8 320.5,57.1 320.0,57.3 319.5,57.6 319.0,57.8 318.5,58.0 318.0,58.3 317.5,58.6 317.0,58.8 316.5,59.1 316.0,59.5 315.5,59.8 315.0,60.1 314.5,60.5 314.0,60.8 313.5,61.2 313.0,61.5 312.5,61.9 312.0,62.2 311.5,62.5 311.0,62.9 310.5,63.2 310.0,63.5 309.5,63.8 309.0,64.1 308.5,64.4 308.0,64.7 307.5,65.0 307.0,65.3 306.5,65.6 306.0,65.8 305.5,66.1 305.0,66.3 304.5,66.5 304.0,66.7 303.5,66.8 303.0,67.0 302.5,67.1 302.0,67.3 301.5,67.4 301.0,67.5 300.5,67.7 300.0,67.8 299.5,67.9 299.0,68.0 298.5,68.1 298.0,68.2 297.5,68.3 297.0,68.4 296.5,68.5 296.0,68.6 295.5,68.7 295.0,68.9 294.5,69.0 294.0,69.1 293.5,69.2 293.0,69.3 292.5,69.4 292.0,69.5 291.5,69.6 291.0,69.7 290.5,69.8 290.0,69.9 289.5,70.0 289.0,70.2 288.5,70.3 288.0,70.4 287.5,70.5 287.0,70.6 286.5,70.7 286.0,70.8 285.5,71.0 285.0,71.1 284.5,71.2 284.0,71.4 283.5,71.5 283.0,71.7 282.5,71.8 282.0,72.0 281.5,72.2 281.0,72.4 280.5,72.6 280.0,72.8 279.5,72.9 279.0,73.1 278.5,73.3 278.0,73.5 277.5,73.7 277.0,73.9 276.5,74.1 276.0,74.3 275.5,74.5 275.0,74.7 274.5,74.9 274.0,75.1 273.5,75.4 273.0,75.7 272.5,76.0 272.0,76.3 271.5,76.7 271.0,77.0 270.5,77.3 270.0,77.7 269.5,78.0 269.0,78.4 268.5,78.8 268.0,79.1 267.5,79.5 267.0,79.8 266.5,80.2 266.0,80.6 265.5,81.0 265.0,81.4 264.5,81.8 264.0,82.2 263.5,82.6 263.0,83.1 262.5,83.5 262.0,84.0 261.5,84.5 261.0,85.0 260.5,85.4 260.0,85.9 259.5,86.4 259.0,86.9 258.5,87.4 258.0,87.9 257.5,88.4 257.0,88.9 256.5,89.4 256.0,89.9 255.5,90.4 255.0,90.9 254.5,91.4 254.0,91.9 253.5,92.4 253.0,92.9 252.5,93.4 252.0,93.9 251.5,94.4 251.0,94.9 250.5,95.4 250.0,96.0 249.5,96.5 249.0,97.0 248.5,97.5 248.0,98.0 247.5,98.6 247.0,99.1 246.5,99.6 246.0,100.2 245.5,100.7 245.0,101.3 244.5,101.8 244.0,102.4 243.5,102.9 243.0,103.5 242.5,104.1 242.0,104.7 241.5,105.2 241.0,105.8 240.5,106.4 240.0,107.0 239.5,107.6 239.0,108.2 238.5,108.7 238.0,109.2 237.5,109.7 237.0,110.3 236.5,110.8 236.0,111.3 235.5,111.8 235.0,112.2 234.5,112.7 234.0,113.2 233.5,113.6 233.0,114.1 232.5,114.5 232.0,114.9 231.5,115.4 231.0,115.8 230.5,116.2 230.0,116.6 229.5,117.0 229.0,117.3 228.5,117.7 228.0,118.0 227.5,118.3 227.0,118.6 226.5,118.8 226.0,119.1 225.5,119.3 225.0,119.6 224.5,119.8 224.0,120.0 223.5,120.2 223.0,120.4 222.5,120.6 222.0,120.8 221.5,120.9 221.0,121.1 220.5,121.2 220.0,121.4 219.5,121.5 219.0,121.6 218.5,121.8 218.0,121.9 217.5,122.0 217.0,122.1 216.5,122.3 216.0,122.4 215.5,122.6 215.0,122.7 214.5,122.9 214.0,123.1 213.5,123.2 213.0,123.4 212.5,123.7 212.0,123.9 211.5,124.1 211.0,124.4 210.5,124.7 210.0,124.9 209.5,125.2 209.0,125.5 208.5,125.8 208.0,126.1 207.5,126.5 207.0,126.8 206.5,127.1 206.0,127.5 205.5,127.8 205.0,128.1 204.5,128.5 204.0,128.8 203.5,129.1 203.0,129.4 202.5,129.8 202.0,130.1 201.5,130.4 201.0,130.7 200.5,131.0 200.0,131.3 199.5,131.6 199.0,132.0 198.5,132.3 198.0,132.6 197.5,132.9 197.0,133.2 196.5,133.5 196.0,133.9 195.5,134.2 195.0,134.5 194.5,134.8 194.0,135.1 193.5,135.4 193.0,135.7 192.5,136.0 192.0,136.3 191.5,136.6 191.0,136.9 190.5,137.2 190.0,137.5 189.5,137.8 189.0,138.1 188.5,138.4 188.0,138.7 187.5,139.0 187.0,139.3 186.5,139.6 186.0,139.8 185.5,140.1 185.0,140.4 184.5,140.6 184.0,140.9 183.5,141.1 183.0,141.3 182.5,141.5 182.0,141.7 181.5,141.9 181.0,142.1 180.5,142.3 180.0,142.5 179.5,142.7 179.0,142.9 178.5,143.1 178.0,143.2 177.5,143.4 177.0,143.5 176.5,143.7 176.0,143.8 175.5,144.0 175.0,144.1 174.5,144.2 174.0,144.3 173.5,144.4 173.0,144.5 172.5,144.6 172.0,144.7 171.5,144.8 171.0,144.9 170.5,145.0 170.0,145.0 169.5,145.1 169.0,145.2 168.5,145.3 168.0,145.3 167.5,145.4 167.0,145.4 166.5,145.5 166.0,145.5 165.5,145.6 165.0,145.6 164.5,145.6 164.0,145.6 163.5,145.6 163.0,145.6 162.5,145.5 162.0,145.4" fill="#00ff00" fill-opacity="0.6"/>
<polyline points="162.0,145.4 162.5,145.3 163.0,145.3 163.5,145.2 164.0,145.1 164.5,145.0 165.0,144.9 165.5,144.9 166.0,144.8 166.5,144.7 167.0,144.6 167.5,144.5 168.0,144.4 168.5,144.3 169.0,144.2 169.5,144.1 170.0,144.0 170.5,143.8 171.0,143.7 171.5,143.5 172.0,143.4 172.5,143.2 173.0,143.0 173.5,142.8 174.0,142.7 174.5,142.5 175.0,142.3 175.5,142.1 176.0,141.9 176.5,141.7 177.0,141.5 177.5,141.3 178.0,141.0 178.5,140.8 179.0,140.6 179.5,140.3 180.0,140.1 180.5,139.8 181.0,139.5 181.5,139.2 182.0,138.9 182.5,138.7 183.0,138.4 183.5,138.1 184.0,137.7 184.5,137.4 185.0,137.1 185.5,136.8 186.0,136.5 186.5,136.2 187.0,135.9 187.5,135.6 188.0,135.3 188.5,135.0 189.0,134.7 189.5,134.4 190.0,134.1 190.5,133.8 191.0,133.5 191.5,133.2 192.0,132.8 192.5,132.5 193.0,132.2 193.5,131.9 194.0,131.6 194.5,131.3 195.0,130.9 195.5,130.6 196.0,130.3 196.5,130.0 197.0,129.7 197.5,129.4 198.0,129.1 198.5,128.7 199.0,128.4 199.5,128.1 200.0,127.7 200.5,127.4 201.0,127.1 201.5,126.7 202.0,126.4 202.5,126.1 203.0,125.8 203.5,125.5 204.0,125.2 204.5,124.9 205.0,124.6 205.5,124.3 206.0,124.1 206.5,123.8 207.0,123.6 207.5,123.4 208.0,123.2 208.5,123.0 209.0,122.9 209.5,122.7 210.0,122.5 210.5,122.4 211.0,122.3 211.5,122.1 212.0,122.0 212.5,121.9 213.0,121.7 213.5,121.6 214.0,121.5 214.5,121.3 215.0,121.2 215.5,121.0 216.0,120.9 216.5,120.7 217.0,120.6 217.5,120.4 218.0,120.2 218.5,120.0 219.0,119.8 219.5,119.5 220.0,119.3 220.5,119.0 221.0,118.8 221.5,118.5 222.0,118.2 222.5,117.9 223.0,117.6 223.5,117.3 224.0,116.9 224.5,116.5 225.0,116.1 225.5,115.7 226.0,115.3 226.5,114.8 227.0,114.4 227.5,114.0 228.0,113.5 228.5,113.1 229.0,112.6 229.5,112.1 230.0,111.7 230.5,111.2 231.0,110.7 231.5,110.2 232.0,109.6 232.5,109.1 233.0,108.6 233.5,108.0 234.0,107.5 234.5,106.9 235.0,106.3 235.5,105.7 236.0,105.1 236.5,104.5 237.0,103.9 237.5,103.4 238.0,102.8 238.5,102.2 239.0,101.7 239.5,101.1 240.0,100.6 240.5,100.1 241.0,99.5 241.5,99.0 242.0,98.5 242.5,97.9 243.0,97.4 243.5,96.9 244.0,96.4 244.5,95.8 245.0,95.3 245.5,94.8 246.0,94.3 246.5,93.8 247.0,93.3 247.5,92.8 248.0,92.3 248.5,91.8 249.0,91.3 249.5,90.8 250.0,90.3 250.5,89.8 251.0,89.3 251.5,88.8 252.0,88.3 252.5,87.8 253.0,87.3 253.5,86.8 254.0,86.3 254.5,85.8 255.0,85.3 255.5,84.9 256.0,84.4 256.5,83.9 257.0,83.4 257.5,83.0 258.0,82.6 258.5,82.1 259.0,81.7 259.5,81.3 260.0,80.9 260.5,80.5 261.0,80.1 261.5,79.8 262.0,79.4 262.5,79.0 263.0,78.7 263.5,78.3 264.0,78.0 264.5,77.6 265.0,77.3 265.5,76.9 266.0,76.6 266.5,76.3 267.0,75.9 267.5,75.6 268.0,75.4 268.5,75.1 269.0,74.9 269.5,74.6 270.0,74.4 270.5,74.2 271.0,74.0 271.5,73.8 272.0,73.7 272.5,73.5 273.0,73.3 273.5,73.1 274.0,72.9 274.5,72.7 275.0,72.5 275.5,72.3 276.0,72.2 276.5,72.0 277.0,71.8 277.5,71.6 278.0,71.5 278.5,71.3 279.0,71.2 279.5,71.1 280.0,70.9 280.5,70.8 281.0,70.7 281.5,70.6 282.0,70.5 282.5,70.3 283.0,70.2 283.5,70.1 284.0,70.0 284.5,69.9 285.0,69.8 285.5,69.7 286.0,69.6 286.5,69.5 287.0,69.4 287.5,69.3 288.0,69.2 288.5,69.1 289.0,69.0 289.5,68.8 290.0,68.7 290.5,68.6 291.0,68.5 291.5,68.4 292.0,68.3 292.5,68.2 293.0,68.1 293.5,68.0 294.0,67.9 294.5,67.8 295.0,67.6 295.5,67.5 296.0,67.4 296.5,67.2 297.0,67.1 297.5,67.0 298.0,66.8 298.5,66.6 299.0,66.5 299.5,66.3 300.0,66.0 300.5,65.8 301.0,65.5 301.5,65.2 302.0,64.9 302.5,64.6 303.0,64.4 303.5,64.1 304.0,63.8 304.5,63.5 305.0,63.1 305.5,62.8 306.0,62.5 306.5,62.1 307.0,61.8 307.5,61.4 308.0,61.1 308.5,60.7 309.0,60.4 309.5,60.1 310.0,59.7 310.5,59.4 311.0,59.1 311.5,58.8 312.0,58.5 312.5,58.2 313.0,58.0 313.5,57.8 314.0,57.5 314.5,57.3 315.0,57.0 315.5,56.8 316.0,56.5 316.5,56.3 317.0,56.1 317.5,55.9 318.0,55.7 318.5,55.5 319.0,55.4 319.5,55.3 320.0,55.3 320.5,55.3 321.0,55.3 321.5,55.4 322.0,55.4 322.5,55.5 323.0,55.5 323.5,55.6 324.0,55.7" fill="none" stroke="#00ff00" stroke-opacity="0.5" stroke-width="1"/>
<polyline points="162.0,145.4 162.5,145.5 163.0,145.6 163.5,145.6 164.0,145.6 164.5,145.6 165.0,145.6 165.5,145.6 166.0,145.5 166.5,145.5 167.0,145.4 167.5,145.4 168.0,145.3 168.5,145.3 169.0,145.2 169.5,145.1 170.0,145.0 170.5,145.0 171.0,144.9 171.5,144.8 172.0,144.7 172.5,144.6 173.0,144.5 173.5,144.4 174.0,144.3 174.5,144.2 175.0,144.1 175.5,144.0 176.0,143.8 176.5,143.7 177.0,143.5 177.5,143.4 178.0,143.2 178.5,143.1 179.0,142.9 179.5,142.7 180.0,142.5 180.5,142.3 181.0,142.1 181.5,141.9 182.0,141.7 182.5,141.5 183.0,141.3 183.5,141.1 184.0,140.9 184.5,140.6 185.0,140.4 185.5,140.1 186.0,139.8 186.5,139.6 187.0,139.3 187.5,139.0 188.0,138.7 188.5,138.4 189.0,138.1 189.5,137.8 190.0,137.5 190.5,137.2 191.0,136.9 191.5,136.6 192.0,136.3 192.5,136.0 193.0,135.7 193.5,135.4 194.0,135.1 194.5,134.8 195.0,134.5 195.5,134.2 196.0,133.9 196.5,133.5 197.0,133.2 197.5,132.9 198.0,132.6 198.5,132.3 199.0,132.0 199.5,131.6 200.0,131.3 200.5,131.0 201.0,130.7 201.5,130.4 202.0,130.1 202.5,129.8 203.0,129.4 203.5,129.1 204.0,128.8 204.5,128.5 205.0,128.1 205.5,127.8 206.0,127.5 206.5,127.1 207.0,126.8 207.5,126.5 208.0,126.1 208.5,125.8 209.0,125.5 209.5,125.2 210.0,124.9 210.5,124.7 211.0,124.4 211.5,124.1 212.0,123.9 212.5,123.7 213.0,123.4 213.5,123.2 214.0,123.1 214.5,122.9 215.0,122.7 215.5,122.6 216.0,122.4 216.5,122.3 217.0,122.1 217.5,122.0 218.0,121.9 218.5,121.8 219.0,121.6 219.5,121.5 220.0,121.4 220.5,121.2 221.0,121.1 221.5,120.9 222.0,120.8 222.5,120.6 223.0,120.4 223.5,120.2 224.0,120.0 224.5,119.8 225.0,119.6 225.5,119.3 226.0,119.1 226.5,118.8 227.0,118.6 227.5,118.3 228.0,118.0 228.5,117.7 229.0,117.3 229.5,117.0 230.0,116.6 230.5,116.2 231.0,115.8 231.5,115.4 232.0,114.9 232.5,114.5 233.0,114.1 233.5,113.6 234.0,113.2 234.5,112.7 235.0,112.2 235.5,111.8 236.0,111.3 236.5,110.8 237.0,110.3 237.5,109.7 238.0,109.2 238.5,108.7 239.0,108.2 239.5,107.6 240.0,107.0 240.5,106.4 241.0,105.8 241.5,105.2 242.0,104.7 242.5,104.1 243.0,103.5 243.5,102.9 244.0,102.4 244.5,101.8 245.0,101.3 245.5,100.7 246.0,100.2 246.5,99.6 247.0,99.1 247.5,98.6 248.0,98.0 248.5,97.5 249.0,97.0 249.5,96.5 250.0,96.0 250.5,95.4 251.0,94.9 251.5,94.4 252.0,93.9 252.5,93.4 253.0,92.9 253.5,92.4 254.0,91.9 254.5,91.4 255.0,90.9 255.5,90.4 256.0,89.9 256.5,89.4 257.0,88.9 257.5,88.4 258.0,87.9 258.5,87.4 259.0,86.9 259.5,86.4 260.0,85.9 260.5,85.4 261.0,85.0 261.5,84.5 262.0,84.0 262.5,83.5 263.0,83.1 263.5,82.6 264.0,82.2 264.5,81.8 265.0,81.4 265.5,81.0 266.0,80.6 266.5,80.2 267.0,79.8 267.5,79.5 268.0,79.1 268.5,78.8 269.0,78.4 269.5,78.0 270.0,77.7 270.5,77.3 271.0,77.0 271.5,76.7 272.0,76.3 272.5,76.0 273.0,75.7 273.5,75.4 274.0,75.1 274.5,74.9 275.0,74.7 275.5,74.5 276.0,74.3 276.5,74.1 277.0,73.9 277.5,73.7 278.0,73.5 278.5,73.3 279.0,73.1 279.5,72.9 280.0,72.8 280.5,72.6 281.0,72.4 281.5,72.2 282.0,72.0 282.5,71.8 283.0,71.7 283.5,71.5 284.0,71.4 284.5,71.2 285.0,71.1 285.5,71.0 286.0,70.8 286.5,70.7 287.0,70.6 287.5,70.5 288.0,70.4 288.5,70.3 289.0,70.2 289.5,70.0 290.0,69.9 290.5,69.8 291.0,69.7 291.5,69.6 292.0,69.5 292.5,69.4 293.0,69.3 293.5,69.2 294.0,69.1 294.5,69.0 295.0,68.9 295.5,68.7 296.0,68.6 296.5,68.5 297.0,68.4 297.5,68.3 298.0,68.2 298.5,68.1 299.0,68.0 299.5,67.9 300.0,67.8 300.5,67.7 301.0,67.5 301.5,67.4 302.0,67.3 302.5,67.1 303.0,67.0 303.5,66.8 304.0,66.7 304.5,66.5 305.0,66.3 305.5,66.1 306.0,65.8 306.5,65.6 307.0,65.3 307.5,65.0 308.0,64.7 308.5,64.4 309.0,64.1 309.5,63.8 310.0,63.5 310.5,63.2 311.0,62.9 311.5,62.5 312.0,62.2 312.5,61.9 313.0,61.5 313.5,61.2 314.0,60.8 314.5,60.5 315.0,60.1 315.5,59.8 316.0,59.5 316.5,59.1 317.0,58.8 317.5,58.6 318.0,58.3 318.5,58.0 319.0,57.8 319.5,57.6 320.0,57.3 320.5,57.1 321.0,56.8 321.5,56.6 322.0,56.3 322.5,56.1 323.0,55.9 323.5,55.7 324.0,55.6" fill="none" stroke="#00ff00" stroke-opacity="0.5" stroke-width="1"/>
<polygon points="324.0,55.7 324.5,55.8 325.0,55.9 325.5,56.0 326.0,56.2 326.5,56.3 327.0,56.4 327.5,56.5 328.0,56.6 328.5,56.8 329.0,56.9 329.5,57.0 330.0,57.1 330.5,57.2 331.0,57.3 331.5,57.4 332.0,57.5 332.5,57.6 333.0,57.7 333.5,57.9 334.0,58.0 334.5,58.1 335.0,58.2 335.5,58.3 336.0,58.4 336.5,58.6 337.0,58.7 337.5,58.8 338.0,58.9 338.5,59.1 339.0,59.2 339.5,59.3 340.0,59.5 340.5,59.6 341.0,59.7 341.5,59.9 342.0,60.0 342.5,60.1 343.0,60.3 343.5,60.4 344.0,60.6 344.5,60.7 345.0,60.9 345.5,61.0 346.0,61.2 346.5,61.3 347.0,61.5 347.5,61.6 348.0,61.8 348.5,62.0 349.0,62.1 349.5,62.3 350.0,62.5 350.5,62.7 351.0,62.8 351.5,63.0 352.0,63.2 352.5,63.4 353.0,63.5 353.5,63.7 354.0,63.9 354.5,64.0 355.0,64.2 355.5,64.4 356.0,64.6 356.5,64.7 357.0,64.9 357.5,65.0 358.0,65.2 358.5,65.4 359.0,65.5 359.5,65.6 360.0,65.8 360.5,65.9 361.0,66.0 361.5,66.2 362.0,66.3 362.5,66.4 363.0,66.5 363.5,66.7 364.0,66.8 364.5,66.9 365.0,67.1 365.5,67.2 366.0,67.4 366.5,67.5 367.0,67.7 367.5,67.8 368.0,68.0 368.5,68.2 369.0,68.4 369.5,68.6 370.0,68.8 370.5,69.0 371.0,69.2 371.5,69.5 372.0,69.8 372.5,70.1 373.0,70.4 373.5,70.7 374.0,71.1 374.5,71.4 375.0,71.8 375.5,72.3 376.0,72.8 376.5,73.3 377.0,73.9 377.5,74.6 378.0,75.5 378.5,76.6 379.0,77.8 379.5,79.0 380.0,80.3 380.5,81.6 381.0,82.9 381.5,84.2 382.0,85.5 382.5,86.9 383.0,88.3 383.5,89.7 384.0,91.2 384.5,92.7 385.0,94.2 385.5,95.7 386.0,97.3 386.5,98.8 387.0,100.3 387.5,101.9 388.0,103.4 388.5,105.0 389.0,106.6 389.5,108.2 390.0,109.8 390.5,111.4 391.0,113.0 391.5,114.5 392.0,116.1 392.5,117.7 393.0,119.3 393.5,120.8 394.0,122.4 394.5,124.0 395.0,125.6 395.5,127.2 396.0,128.7 396.5,130.3 397.0,131.9 397.5,133.5 398.0,135.2 398.5,136.8 399.0,138.4 399.5,140.0 400.0,141.6 400.5,143.2 401.0,144.7 401.5,146.2 402.0,147.6 402.5,149.1 403.0,150.5 403.5,151.9 404.0,153.3 404.5,154.6 405.0,155.9 405.5,157.2 406.0,158.5 406.5,159.7 407.0,160.9 407.5,162.1 408.0,163.2 408.5,164.2 409.0,165.3 409.5,166.3 410.0,167.4 410.5,168.4 411.0,169.3 411.5,170.3 412.0,171.2 412.5,172.2 413.0,173.1 413.5,174.0 414.0,174.8 414.5,175.7 415.0,176.6 415.5,177.4 416.0,178.3 416.5,179.1 417.0,180.0 417.5,180.8 418.0,181.6 418.5,182.3 419.0,183.1 419.5,183.8 420.0,184.6 420.5,185.3 421.0,185.9 421.5,186.6 422.0,187.2 422.5,187.8 423.0,188.3 423.5,188.9 424.0,189.5 424.5,190.0 425.0,190.5 425.5,191.1 426.0,191.6 426.5,192.1 427.0,192.6 427.5,193.0 428.0,193.5 428.5,194.0 429.0,194.4 429.5,194.8 430.0,195.3 430.5,195.7 431.0,196.1 431.5,196.5 432.0,196.9 432.5,197.3 433.0,197.7 433.5,198.1 434.0,198.4 434.5,198.8 435.0,199.2 435.5,199.5 436.0,199.9 436.5,200.2 437.0,200.6 437.5,200.9 438.0,201.2 438.5,201.5 439.0,201.8 439.5,202.2 440.0,202.5 440.5,202.8 441.0,203.1 441.5,203.4 442.0,203.7 442.5,203.9 443.0,204.2 443.5,204.5 444.0,204.8 444.5,205.0 445.0,205.3 445.5,205.6 446.0,205.8 446.5,206.1 447.0,206.3 447.5,206.5 448.0,206.8 448.5,207.0 449.0,207.3 449.5,207.5 450.0,207.7 450.5,208.0 451.0,208.2 451.5,208.5 452.0,208.7 452.5,209.0 453.0,209.2 453.5,209.5 454.0,209.7 454.5,210.0 455.0,210.3 455.5,210.5 456.0,210.8 456.5,211.0 457.0,211.2 457.5,211.4 458.0,211.6 458.5,211.8 459.0,211.9 459.5,212.1 460.0,212.2 460.5,212.4 461.0,212.5 461.5,212.7 462.0,212.8 462.5,213.0 463.0,213.1 463.5,213.2 464.0,213.4 464.5,213.5 465.0,213.6 465.5,213.7 466.0,213.9 466.5,214.0 467.0,214.1 467.5,214.2 468.0,214.3 468.5,214.4 469.0,214.6 469.5,214.7 470.0,214.8 470.5,214.9 471.0,215.0 471.5,215.1 472.0,215.3 472.5,215.4 473.0,215.5 473.5,215.6 474.0,215.7 474.5,215.8 475.0,215.9 475.5,216.0 476.0,216.2 476.5,216.3 477.0,216.4 477.5,216.5 478.0,216.6 478.5,216.7 479.0,216.8 479.5,216.9 480.0,217.0 480.5,217.1 481.0,217.2 481.5,217.3 482.0,217.4 482.5,217.5 483.0,217.6 483.5,217.7 484.0,217.8 484.5,217.9 485.0,218.0 485.5,218.1 486.0,218.1 486.5,218.2 487.0,218.3 487.5,218.4 488.0,218.5 488.5,218.6 489.0,218.7 489.5,218.8 490.0,218.9 490.5,219.0 491.0,219.1 491.5,219.2 492.0,219.3 492.5,219.4 493.0,219.4 493.5,219.5 494.0,219.6 494.5,219.7 495.0,219.8 495.5,219.8 496.0,219.9 496.5,220.0 497.0,220.0 497.5,220.1 498.0,220.2 498.5,220.2 499.0,220.3 499.5,220.3 500.0,220.4 500.5,220.4 501.0,220.5 501.5,220.5 502.0,220.6 502.5,220.6 503.0,220.7 503.5,220.7 504.0,220.8 504.5,220.8 505.0,220.9 505.5,220.9 506.0,220.9 506.5,221.0 507.0,221.0 507.5,221.1 508.0,221.1 508.5,221.1 509.0,221.2 509.5,221.2 510.0,221.2 510.5,221.2 511.0,221.3 511.5,221.3 512.0,221.3 512.5,221.3 513.0,221.3 513.5,221.3 514.0,221.3 514.5,221.3 515.0,221.3 515.5,221.2 516.0,221.2 516.0,221.2 515.5,221.2 515.0,221.2 514.5,221.2 514.0,221.1 513.5,221.1 513.0,221.1 512.5,221.0 512.0,221.0 511.5,220.9 511.0,220.9 510.5,220.9 510.0,220.8 509.5,220.8 509.0,220.7 508.5,220.7 508.0,220.6 507.5,220.6 507.0,220.5 506.5,220.5 506.0,220.4 505.5,220.4 505.0,220.3 504.5,220.3 504.0,220.2 503.5,220.2 503.0,220.1 502.5,220.0 502.0,220.0 501.5,219.9 501.0,219.8 500.5,219.7 500.0,219.7 499.5,219.6 499.0,219.5 498.5,219.4 498.0,219.3 497.5,219.2 497.0,219.2 496.5,219.1 496.0,219.0 495.5,218.9 495.0,218.8 494.5,218.7 494.0,218.6 493.5,218.5 493.0,218.4 492.5,218.3 492.0,218.2 491.5,218.1 491.0,218.0 490.5,217.9 490.0,217.9 489.5,217.8 489.0,217.7 488.5,217.6 488.0,217.5 487.5,217.4 487.0,217.3 486.5,217.2 486.0,217.1 485.5,217.0 485.0,216.9 484.5,216.8 484.0,216.7 483.5,216.6 483.0,216.5 482.5,216.3 482.0,216.2 481.5,216.1 481.0,216.0 480.5,215.9 480.0,215.8 479.5,215.7 479.0,215.6 478.5,215.5 478.0,215.4 477.5,215.2 477.0,215.1 476.5,215.0 476.0,214.9 475.5,214.8 475.0,214.6 474.5,214.5 474.0,214.4 473.5,214.3 473.0,214.2 472.5,214.1 472.0,214.0 471.5,213.8 471.0,213.7 470.5,213.6 470.0,213.5 469.5,213.3 469.0,213.2 468.5,213.1 468.0,212.9 467.5,212.8 467.0,212.7 466.5,212.5 466.0,212.4 465.5,212.2 465.0,212.1 464.5,211.9 464.0,211.7 463.5,211.6 463.0,211.4 462.5,211.2 462.0,211.0 461.5,210.7 461.0,210.5 460.5,210.2 460.0,210.0 459.5,209.7 459.0,209.4 458.5,209.2 458.0,208.9 457.5,208.7 457.0,208.4 456.5,208.2 456.0,207.9 455.5,207.7 455.0,207.4 454.5,207.2 454.0,207.0 453.5,206.7 453.0,206.5 452.5,206.2 452.0,206.0 451.5,205.8 451.0,205.5 450.5,205.2 450.0,205.0 449.5,204.7 449.0,204.4 448.5,204.2 448.0,203.9 447.5,203.6 447.0,203.3 446.5,203.0 446.0,202.7 445.5,202.4 445.0,202.1 444.5,201.8 444.0,201.5 443.5,201.1 443.0,200.8 442.5,200.5 442.0,200.1 441.5,199.8 441.0,199.5 440.5,199.1 440.0,198.7 439.5,198.4 439.0,198.0 438.5,197.6 438.0,197.2 437.5,196.8 437.0,196.4 436.5,196.0 436.0,195.6 435.5,195.2 435.0,194.8 434.5,194.3 434.0,193.9 433.5,193.4 433.0,192.9 432.5,192.5 432.0,192.0 431.5,191.5 431.0,191.0 430.5,190.4 430.0,189.9 429.5,189.4 429.0,188.8 428.5,188.2 428.0,187.6 427.5,187.0 427.0,186.4 426.5,185.8 426.0,185.1 425.5,184.4 425.0,183.7 424.5,183.0 424.0,182.2 423.5,181.4 423.0,180.6 422.5,179.8 422.0,179.0 421.5,178.1 421.0,177.3 420.5,176.4 420.0,175.5 419.5,174.7 419.0,173.8 418.5,172.9 418.0,172.0 417.5,171.1 417.0,170.1 416.5,169.1 416.0,168.2 415.5,167.2 415.0,166.1 414.5,165.1 414.0,164.0 413.5,163.0 413.0,161.9 412.5,160.7 412.0,159.5 411.5,158.3 411.0,157.0 410.5,155.7 410.0,154.3 409.5,153.0 409.0,151.6 408.5,150.2 408.0,148.8 407.5,147.4 407.0,145.9 406.5,144.4 406.0,142.9 405.5,141.3 405.0,139.7 404.5,138.1 404.0,136.5 403.5,134.8 403.0,133.2 402.5,131.6 402.0,130.0 401.5,128.4 401.0,126.8 400.5,125.3 400.0,123.7 399.5,122.1 399.0,120.5 398.5,119.0 398.0,117.4 397.5,115.8 397.0,114.2 396.5,112.7 396.0,111.1 395.5,109.5 395.0,107.9 394.5,106.3 394.0,104.7 393.5,103.1 393.0,101.5 392.5,100.0 392.0,98.5 391.5,97.0 391.0,95.4 390.5,93.9 390.0,92.4 389.5,90.9 389.0,89.4 388.5,88.0 388.0,86.6 387.5,85.3 387.0,84.0 386.5,82.7 386.0,81.4 385.5,80.0 385.0,78.7 384.5,77.5 384.0,76.4 383.5,75.3 383.0,74.5 382.5,73.7 382.0,73.2 381.5,72.7 381.0,72.2 380.5,71.8 380.0,71.4 379.5,71.0 379.0,70.6 378.5,70.3 378.0,70.0 377.5,69.7 377.0,69.4 376.5,69.2 376.0,69.0 375.5,68.7 375.0,68.5 374.5,68.3 374.0,68.1 373.5,68.0 373.0,67.8 372.5,67.6 372.0,67.5 371.5,67.3 371.0,67.2 370.5,67.0 370.0,66.9 369.5,66.8 369.0,66.6 368.5,66.5 368.0,66.4 367.5,66.3 367.0,66.1 366.5,66.0 366.0,65.9 365.5,65.8 365.0,65.6 364.5,65.5 364.0,65.3 363.5,65.2 363.0,65.0 362.5,64.8 362.0,64.7 361.5,64.5 361.0,64.4 360.5,64.2 360.0,64.0 359.5,63.8 359.0,63.7 358.5,63.5 358.0,63.3 357.5,63.1 357.0,63.0 356.5,62.8 356.0,62.6 355.5,62.5 355.0,62.3 354.5,62.1 354.0,61.9 353.5,61.8 353.0,61.6 352.5,61.4 352.0,61.3 351.5,61.1 351.0,61.0 350.5,60.8 350.0,60.7 349.5,60.5 349.0,60.4 348.5,60.2 348.0,60.1 347.5,60.0 347.0,59.8 346.5,59.7 346.0,59.6 345.5,59.4 345.0,59.3 344.5,59.2 344.0,59.0 343.5,58.9 343.0,58.8 342.5,58.7 342.0,58.5 341.5,58.4 341.0,58.3 340.5,58.2 340.0,58.1 339.5,57.9 339.0,57.8 338.5,57.7 338.0,57.6 337.5,57.5 337.0,57.4 336.5,57.3 336.0,57.2 335.5,57.1 335.0,57.0 334.5,56.8 334.0,56.7 333.5,56.6 333.0,56.5 332.5,56.4 332.0,56.3 331.5,56.1 331.0,56.0 330.5,55.9 330.0,55.8 329.5,55.7 329.0,55.6 328.5,55.5 328.0,55.5 327.5,55.4 327.0,55.3 326.5,55.3 326.0,55.3 325.5,55.3 325.0,55.4 324.5,55.4 324.0,55.6" fill="#ff0000" fill-opacity="0.6"/>
<polyline points="324.0,55.7 324.5,55.8 325.0,55.9 325.5,56.0 326.0,56.2 326.5,56.3 327.0,56.4 327.5,56.5 328.0,56.6 328.5,56.8 329.0,56.9 329.5,57.0 330.0,57.1 330.5,57.2 331.0,57.3 331.5,57.4 332.0,57.5 332.5,57.6 333.0,57.7 333.5,57.9 334.0,58.0 334.5,58.1 335.0,58.2 335.5,58.3 336.0,58.4 336.5,58.6 337.0,58.7 337.5,58.8 338.0,58.9 338.5,59.1 339.0,59.2 339.5,59.3 340.0,59.5 340.5,59.6 341.0,59.7 341.5,59.9 342.0,60.0 342.5,60.1 343.0,60.3 343.5,60.4 344.0,60.6 344.5,60.7 345.0,60.9 345.5,61.0 346.0,61.2 346.5,61.3 347.0,61.5 347.5,61.6 348.0,61.8 348.5,62.0 349.0,62.1 349.5,62.3 350.0,62.5 350.5,62.7 351.0,62.8 351.5,63.0 352.0,63.2 352.5,63.4 353.0,63.5 353.5,63.7 354.0,63.9 354.5,64.0 355.0,64.2 355.5,64.4 356.0,64.6 356.5,64.7 357.0,64.9 357.5,65.0 358.0,65.2 358.5,65.4 359.0,65.5 359.5,65.6 360.0,65.8 360.5,65.9 361.0,66.0 361.5,66.2 362.0,66.3 362.5,66.4 363.0,66.5 363.5,66.7 364.0,66.8 364.5,66.9 365.0,67.1 365.5,67.2 366.0,67.4 366.5,67.5 367.0,67.7 367.5,67.8 368.0,68.0 368.5,68.2 369.0,68.4 369.5,68.6 370.0,68.8 370.5,69.0 371.0,69.2 371.5,69.5 372.0,69.8 372.5,70.1 373.0,70.4 373.5,70.7 374.0,71.1 374.5,71.4 375.0,71.8 375.5,72.3 376.0,72.8 376.5,73.3 377.0,73.9 377.5,74.6 378.0,75.5 378.5,76.6 379.0,77.8 379.5,79.0 380.0,80.3 380.5,81.6 381.0,82.9 381.5,84.2 382.0,85.5 382.5,86.9 383.0,88.3 383.5,89.7 384.0,91.2 384.5,92.7 385.0,94.2 385.5,95.7 386.0,97.3 386.5,98.8 387.0,100.3 387.5,101.9 388.0,103.4 388.5,105.0 389.0,106.6 389.5,108.2 390.0,109.8 390.5,111.4 391.0,113.0 391.5,114.5 392.0,116.1 392.5,117.7 393.0,119.3 393.5,120.8 394.0,122.4 394.5,124.0 395.0,125.6 395.5,127.2 396.0,128.7 396.5,130.3 397.0,131.9 397.5,133.5 398.0,135.2 398.5,136.8 399.0,138.4 399.5,140.0 400.0,141.6 400.5,143.2 401.0,144.7 401.5,146.2 402.0,147.6 402.5,149.1 403.0,150.5 403.5,151.9 404.0,153.3 404.5,154.6 405.0,155.9 405.5,157.2 406.0,158.5 406.5,159.7 407.0,160.9 407.5,162.1 408.0,163.2 408.5,164.2 409.0,165.3 409.5,166.3 410.0,167.4 410.5,168.4 411.0,169.3 411.5,170.3 412.0,171.2 412.5,172.2 413.0,173.1 413.5,174.0 414.0,174.8 414.5,175.7 415.0,176.6 415.5,177.4 416.0,178.3 416.5,179.1 417.0,180.0 417.5,180.8 418.0,181.6 418.5,182.3 419.0,183.1 419.5,183.8 420.0,184.6 420.5,185.3 421.0,185.9 421.5,186.6 422.0,187.2 422.5,187.8 423.0,188.3 423.5,188.9 424.0,189.5 424.5,190.0 425.0,190.5 425.5,191.1 426.0,191.6 426.5,192.1 427.0,192.6 427.5,193.0 428.0,193.5 428.5,194.0 429.0,194.4 429.5,194.8 430.0,195.3 430.5,195.7 431.0,196.1 431.5,196.5 432.0,196.9 432.5,197.3 433.0,197.7 433.5,198.1 434.0,198.4 434.5,198.8 435.0,199.2 435.5,199.5 436.0,199.9 436.5,200.2 437.0,200.6 437.5,200.9 438.0,201.2 438.5,201.5 439.0,201.8 439.5,202.2 440.0,202.5 440.5,202.8 441.0,203.1 441.5,203.4 442.0,203.7 442.5,203.9 443.0,204.2 443.5,204.5 444.0,204.8 444.5,205.0 445.0,205.3 445.5,205.6 446.0,205.8 446.5,206.1 447.0,206.3 447.5,206.5 448.0,206.8 448.5,207.0 449.0,207.3 449.5,207.5 450.0,207.7 450.5,208.0 451.0,208.2 451.5,208.5 452.0,208.7 452.5,209.0 453.0,209.2 453.5,209.5 454.0,209.7 454.5,210.0 455.0,210.3 455.5,210.5 456.0,210.8 456.5,211.0 457.0,211.2 457.5,211.4 458.0,211.6 458.5,211.8 459.0,211.9 459.5,212.1 460.0,212.2 460.5,212.4 461.0,212.5 461.5,212.7 462.0,212.8 462.5,213.0 463.0,213.1 463.5,213.2 464.0,213.4 464.5,213.5 465.0,213.6 465.5,213.7 466.0,213.9 466.5,214.0 467.0,214.1 467.5,214.2 468.0,214.3 468.5,214.4 469.0,214.6 469.5,214.7 470.0,214.8 470.5,214.9 471.0,215.0 471.5,215.1 472.0,215.3 472.5,215.4 473.0,215.5 473.5,215.6 474.0,215.7 474.5,215.8 475.0,215.9 475.5,216.0 476.0,216.2 476.5,216.3 477.0,216.4 477.5,216.5 478.0,216.6 478.5,216.7 479.0,216.8 479.5,216.9 480.0,217.0 480.5,217.1 481.0,217.2 481.5,217.3 482.0,217.4 482.5,217.5 483.0,217.6 483.5,217.7 484.0,217.8 484.5,217.9 485.0,218.0 485.5,218.1 486.0,218.1 486.5,218.2 487.0,218.3 487.5,218.4 488.0,218.5 488.5,218.6 489.0,218.7 489.5,218.8 490.0,218.9 490.5,219.0 491.0,219.1 491.5,219.2 492.0,219.3 492.5,219.4 493.0,219.4 493.5,219.5 494.0,219.6 494.5,219.7 495.0,219.8 495.5,219.8 496.0,219.9 496.5,220.0 497.0,220.0 497.5,220.1 498.0,220.2 498.5,220.2 499.0,220.3 499.5,220.3 500.0,220.4 500.5,220.4 501.0,220.5 501.5,220.5 502.0,220.6 502.5,220.6 503.0,220.7 503.5,220.7 504.0,220.8 504.5,220.8 505.0,220.9 505.5,220.9 506.0,220.9 506.5,221.0 507.0,221.0 507.5,221.1 508.0,221.1 508.5,221.1 509.0,221.2 509.5,221.2 510.0,221.2 510.5,221.2 511.0,221.3 511.5,221.3 512.0,221.3 512.5,221.3 513.0,221.3 513.5,221.3 514.0,221.3 514.5,221.3 515.0,221.3 515.5,221.2 516.0,221.2" fill="none" stroke="#ff0000" stroke-opacity="0.5" stroke-width="1"/>
<polyline points="324.0,55.6 324.5,55.4 325.0,55.4 325.5,55.3 326.0,55.3 326.5,55.3 327.0,55.3 327.5,55.4 328.0,55.5 328.5,55.5 329.0,55.6 329.5,55.7 330.0,55.8 330.5,55.9 331.0,56.0 331.5,56.1 332.0,56.3 332.5,56.4 333.0,56.5 333.5,56.6 334.0,56.7 334.5,56.8 335.0,57.0 335.5,57.1 336.0,57.2 336.5,57.3 337.0,57.4 337.5,57.5 338.0,57.6 338.5,57.7 339.0,57.8 339.5,57.9 340.0,58.1 340.5,58.2 341.0,58.3 341.5,58.4 342.0,58.5 342.5,58.7 343.0,58.8 343.5,58.9 344.0,59.0 344.5,59.2 345.0,59.3 345.5,59.4 346.0,59.6 346.5,59.7 347.0,59.8 347.5,60.0 348.0,60.1 348.5,60.2 349.0,60.4 349.5,60.5 350.0,60.7 350.5,60.8 351.0,61.0 351.5,61.1 352.0,61.3 352.5,61.4 353.0,61.6 353.5,61.8 354.0,61.9 354.5,62.1 355.0,62.3 355.5,62.5 356.0,62.6 356.5,62.8 357.0,63.0 357.5,63.1 358.0,63.3 358.5,63.5 359.0,63.7 359.5,63.8 360.0,64.0 360.5,64.2 361.0,64.4 361.5,64.5 362.0,64.7 362.5,64.8 363.0,65.0 363.5,65.2 364.0,65.3 364.5,65.5 365.0,65.6 365.5,65.8 366.0,65.9 366.5,66.0 367.0,66.1 367.5,66.3 368.0,66.4 368.5,66.5 369.0,66.6 369.5,66.8 370.0,66.9 370.5,67.0 371.0,67.2 371.5,67.3 372.0,67.5 372.5,67.6 373.0,67.8 373.5,68.0 374.0,68.1 374.5,68.3 375.0,68.5 375.5,68.7 376.0,69.0 376.5,69.2 377.0,69.4 377.5,69.7 378.0,70.0 378.5,70.3 379.0,70.6 379.5,71.0 380.0,71.4 380.5,71.8 381.0,72.2 381.5,72.7 382.0,73.2 382.5,73.7 383.0,74.5 383.5,75.3 384.0,76.4 384.5,77.5 385.0,78.7 385.5,80.0 386.0,81.4 386.5,82.7 387.0,84.0 387.5,85.3 388.0,86.6 388.5,88.0 389.0,89.4 389.5,90.9 390.0,92.4 390.5,93.9 391.0,95.4 391.5,97.0 392.0,98.5 392.5,100.0 393.0,101.5 393.5,103.1 394.0,104.7 394.5,106.3 395.0,107.9 395.5,109.5 396.0,111.1 396.5,112.7 397.0,114.2 397.5,115.8 398.0,117.4 398.5,119.0 399.0,120.5 399.5,122.1 400.0,123.7 400.5,125.3 401.0,126.8 401.5,128.4 402.0,130.0 402.5,131.6 403.0,133.2 403.5,134.8 404.0,136.5 404.5,138.1 405.0,139.7 405.5,141.3 406.0,142.9 406.5,144.4 407.0,145.9 407.5,147.4 408.0,148.8 408.5,150.2 409.0,151.6 409.5,153.0 410.0,154.3 410.5,155.7 411.0,157.0 411.5,158.3 412.0,159.5 412.5,160.7 413.0,161.9 413.5,163.0 414.0,164.0 414.5,165.1 415.0,166.1 415.5,167.2 416.0,168.2 416.5,169.1 417.0,170.1 417.5,171.1 418.0,172.0 418.5,172.9 419.0,173.8 419.5,174.7 420.0,175.5 420.5,176.4 421.0,177.3 421.5,178.1 422.0,179.0 422.5,179.8 423.0,180.6 423.5,181.4 424.0,182.2 424.5,183.0 425.0,183.7 425.5,184.4 426.0,185.1 426.5,185.8 427.0,186.4 427.5,187.0 428.0,187.6 428.5,188.2 429.0,188.8 429.5,189.4 430.0,189.9 430.5,190.4 431.0,191.0 431.5,191.5 432.0,192.0 432.5,192.5 433.0,192.9 433.5,193.4 434.0,193.9 434.5,194.3 435.0,194.8 435.5,195.2 436.0,195.6 436.5,196.0 437.0,196.4 437.5,196.8 438.0,197.2 438.5,197.6 439.0,198.0 439.5,198.4 440.0,198.7 440.5,199.1 441.0,199.5 441.5,199.8 442.0,200.1 442.5,200.5 443.0,200.8 443.5,201.1 444.0,201.5 444.5,201.8 445.0,202.1 445.5,202.4 446.0,202.7 446.5,203.0 447.0,203.3 447.5,203.6 448.0,203.9 448.5,204.2 449.0,204.4 449.5,204.7 450.0,205.0 450.5,205.2 451.0,205.5 451.5,205.8 452.0,206.0 452.5,206.2 453.0,206.5 453.5,206.7 454.0,207.0 454.5,207.2 455.0,207.4 455.5,207.7 456.0,207.9 456.5,208.2 457.0,208.4 457.5,208.7 458.0,208.9 458.5,209.2 459.0,209.4 459.5,209.7 460.0,210.0 460.5,210.2 461.0,210.5 461.5,210.7 462.0,211.0 462.5,211.2 463.0,211.4 463.5,211.6 464.0,211.7 464.5,211.9 465.0,212.1 465.5,212.2 466.0,212.4 466.5,212.5 467.0,212.7 467.5,212.8 468.0,212.9 468.5,213.1 469.0,213.2 469.5,213.3 470.0,213.5 470.5,213.6 471.0,213.7 471.5,213.8 472.0,214.0 472.5,214.1 473.0,214.2 473.5,214.3 474.0,214.4 474.5,214.5 475.0,214.6 475.5,214.8 476.0,214.9 476.5,215.0 477.0,215.1 477.5,215.2 478.0,215.4 478.5,215.5 479.0,215.6 479.5,215.7 480.0,215.8 480.5,215.9 481.0,216.0 481.5,216.1 482.0,216.2 482.5,216.3 483.0,216.5 483.5,216.6 484.0,216.7 484.5,216.8 485.0,216.9 485.5,217.0 486.0,217.1 486.5,217.2 487.0,217.3 487.5,217.4 488.0,217.5 488.5,217.6 489.0,217.7 489.5,217.8 490.0,217.9 490.5,217.9 491.0,218.0 491.5,218.1 492.0,218.2 492.5,218.3 493.0,218.4 493.5,218.5 494.0,218.6 494.5,218.7 495.0,218.8 495.5,218.9 496.0,219.0 496.5,219.1 497.0,219.2 497.5,219.2 498.0,219.3 498.5,219.4 499.0,219.5 499.5,219.6 500.0,219.7 500.5,219.7 501.0,219.8 501.5,219.9 502.0,220.0 502.5,220.0 503.0,220.1 503.5,220.2 504.0,220.2 504.5,220.3 505.0,220.3 505.5,220.4 506.0,220.4 506.5,220.5 507.0,220.5 507.5,220.6 508.0,220.6 508.5,220.7 509.0,220.7 509.5,220.8 510.0,220.8 510.5,220.9 511.0,220.9 511.5,220.9 512.0,221.0 512.5,221.0 513.0,221.1 513.5,221.1 514.0,221.1 514.5,221.2 515.0,221.2 515.5,221.2 516.0,221.2" fill="none" stroke="#ff0000" stroke-opacity="0.5" stroke-width="1"/>
<polygon points="516.0,221.2 516.5,221.2 517.0,221.1 517.5,221.1 518.0,221.0 518.5,221.0 519.0,220.9 519.5,220.8 520.0,220.8 520.5,220.7 521.0,220.6 521.5,220.5 522.0,220.5 522.5,220.4 523.0,220.3 523.5,220.2 524.0,220.1 524.5,220.0 525.0,219.8 525.5,219.6 526.0,219.5 526.5,219.3 527.0,219.1 527.5,218.8 528.0,218.6 528.5,218.4 529.0,218.1 529.5,217.9 530.0,217.6 530.5,217.3 531.0,217.1 531.5,216.8 532.0,216.5 532.5,216.2 533.0,216.0 533.5,215.7 534.0,215.3 534.5,215.0 535.0,214.6 535.5,214.3 536.0,213.9 536.5,213.5 537.0,213.1 537.5,212.7 538.0,212.3 538.5,211.9 539.0,211.5 539.5,211.1 540.0,210.7 540.5,210.3 541.0,209.9 541.5,209.5 542.0,209.1 542.5,208.7 543.0,208.3 543.5,207.9 544.0,207.5 544.5,207.1 545.0,206.7 545.5,206.3 546.0,205.8 546.5,205.4 547.0,205.0 547.5,204.6 548.0,204.2 548.5,203.8 549.0,203.4 549.5,203.1 550.0,202.7 550.5,202.4 551.0,202.1 551.5,201.8 552.0,201.6 552.5,201.3 553.0,201.0 553.5,200.8 554.0,200.6 554.5,200.3 555.0,200.1 555.5,199.9 556.0,199.6 556.5,199.4 557.0,199.2 557.5,199.0 558.0,198.8 558.5,198.6 559.0,198.4 559.5,198.2 560.0,198.0 560.5,197.8 561.0,197.7 561.5,197.5 562.0,197.3 562.5,197.1 563.0,196.9 563.5,196.7 564.0,196.5 564.5,196.3 565.0,196.1 565.5,195.9 566.0,195.8 566.5,195.6 567.0,195.4 567.5,195.2 568.0,195.1 568.5,194.9 569.0,194.8 569.5,194.6 570.0,194.5 570.5,194.4 571.0,194.3 571.5,194.3 572.0,194.2 572.5,194.1 573.0,194.0 573.5,194.0 574.0,193.9 574.5,193.9 575.0,193.8 575.5,193.8 576.0,193.8 576.5,193.8 577.0,193.8 577.5,193.8 578.0,193.8 578.5,193.8 579.0,193.9 579.5,193.9 580.0,193.9 580.0,193.9 579.5,193.9 579.0,194.0 578.5,194.0 578.0,194.1 577.5,194.2 577.0,194.3 576.5,194.3 576.0,194.4 575.5,194.6 575.0,194.7 574.5,194.8 574.0,194.9 573.5,195.1 573.0,195.3 572.5,195.4 572.0,195.6 571.5,195.8 571.0,196.0 570.5,196.2 570.0,196.4 569.5,196.6 569.0,196.7 568.5,196.9 568.0,197.1 567.5,197.3 567.0,197.5 566.5,197.7 566.0,197.9 565.5,198.1 565.0,198.3 564.5,198.5 564.0,198.7 563.5,198.9 563.0,199.1 562.5,199.3 562.0,199.5 561.5,199.7 561.0,199.9 560.5,200.1 560.0,200.4 559.5,200.6 559.0,200.8 558.5,201.1 558.0,201.3 557.5,201.6 557.0,201.9 556.5,202.2 556.0,202.5 555.5,202.8 555.0,203.1 554.5,203.5 554.0,203.9 553.5,204.3 553.0,204.7 552.5,205.1 552.0,205.5 551.5,205.9 551.0,206.3 550.5,206.8 550.0,207.2 549.5,207.6 549.0,208.0 548.5,208.4 548.0,208.8 547.5,209.2 547.0,209.6 546.5,210.0 546.0,210.4 545.5,210.8 545.0,211.2 544.5,211.6 544.0,212.0 543.5,212.4 543.0,212.8 542.5,213.2 542.0,213.6 541.5,214.0 541.0,214.4 540.5,214.7 540.0,215.1 539.5,215.4 539.0,215.7 538.5,216.0 538.0,216.3 537.5,216.6 537.0,216.8 536.5,217.1 536.0,217.4 535.5,217.6 535.0,217.9 534.5,218.2 534.0,218.4 533.5,218.6 533.0,218.9 532.5,219.1 532.0,219.3 531.5,219.5 531.0,219.7 530.5,219.8 530.0,220.0 529.5,220.1 529.0,220.2 528.5,220.3 528.0,220.4 527.5,220.5 527.0,220.6 526.5,220.6 526.0,220.7 525.5,220.8 525.0,220.9 524.5,220.9 524.0,221.0 523.5,221.0 523.0,221.1 522.5,221.1 522.0,221.2 521.5,221.2 521.0,221.2 520.5,221.3 520.0,221.3 519.5,221.3 519.0,221.3 518.5,221.3 518.0,221.3 517.5,221.3 517.0,221.3 516.5,221.3 516.0,221.2" fill="#00ff00" fill-opacity="0.6"/>
<polyline points="516.0,221.2 516.5,221.2 517.0,221.1 517.5,221.1 518.0,221.0 518.5,221.0 519.0,220.9 519.5,220.8 520.0,220.8 520.5,220.7 521.0,220.6 521.5,220.5 522.0,220.5 522.5,220.4 523.0,220.3 523.5,220.2 524.0,220.1 524.5,220.0 525.0,219.8 525.5,219.6 526.0,219.5 526.5,219.3 527.0,219.1 527.5,218.8 528.0,218.6 528.5,218.4 529.0,218.1 529.5,217.9 530.0,217.6 530.5,217.3 531.0,217.1 531.5,216.8 532.0,216.5 532.5,216.2 533.0,216.0 533.5,215.7 534.0,215.3 534.5,215.0 535.0,214.6 535.5,214.3 536.0,213.9 536.5,213.5 537.0,213.1 537.5,212.7 538.0,212.3 538.5,211.9 539.0,211.5 539.5,211.1 540.0,210.7 540.5,210.3 541.0,209.9 541.5,209.5 542.0,209.1 542.5,208.7 543.0,208.3 543.5,207.9 544.0,207.5 544.5,207.1 545.0,206.7 545.5,206.3 546.0,205.8 546.5,205.4 547.0,205.0 547.5,204.6 548.0,204.2 548.5,203.8 549.0,203.4 549.5,203.1 550.0,202.7 550.5,202.4 551.0,202.1 551.5,201.8 552.0,201.6 552.5,201.3 553.0,201.0 553.5,200.8 554.0,200.6 554.5,200.3 555.0,200.1 555.5,199.9 556.0,199.6 556.5,199.4 557.0,199.2 557.5,199.0 558.0,198.8 558.5,198.6 559.0,198.4 559.5,198.2 560.0,198.0 560.5,197.8 561.0,197.7 561.5,197.5 562.0,197.3 562.5,197.1 563.0,196.9 563.5,196.7 564.0,196.5 564.5,196.3 565.0,196.1 565.5,195.9 566.0,195.8 566.5,195.6 567.0,195.4 567.5,195.2 568.0,195.1 568.5,194.9 569.0,194.8 569.5,194.6 570.0,194.5 570.5,194.4 571.0,194.3 571.5,194.3 572.0,194.2 572.5,194.1 573.0,194.0 573.5,194.0 574.0,193.9 574.5,193.9 575.0,193.8 575.5,193.8 576.0,193.8 576.5,193.8 577.0,193.8 577.5,193.8 578.0,193.8 578.5,193.8 579.0,193.9 579.5,193.9 580.0,193.9" fill="none" stroke="#00ff00" stroke-opacity="0.5" stroke-width="1"/>
<polyline points="516.0,221.2 516.5,221.3 517.0,221.3 517.5,221.3 518.0,221.3 518.5,221.3 519.0,221.3 519.5,221.3 520.0,221.3 520.5,221.3 521.0,221.2 521.5,221.2 522.0,221.2 522.5,221.1 523.0,221.1 523.5,221.0 524.0,221.0 524.5,220.9 525.0,220.9 525.5,220.8 526.0,220.7 526.5,220.6 527.0,220.6 527.5,220.5 528.0,220.4 528.5,220.3 529.0,220.2 529.5,220.1 530.0,220.0 530.5,219.8 531.0,219.7 531.5,219.5 532.0,219.3 532.5,219.1 533.0,218.9 533.5,218.6 534.0,218.4 534.5,218.2 535.0,217.9 535.5,217.6 536.0,217.4 536.5,217.1 537.0,216.8 537.5,216.6 538.0,216.3 538.5,216.0 539.0,215.7 539.5,215.4 540.0,215.1 540.5,214.7 541.0,214.4 541.5,214.0 542.0,213.6 542.5,213.2 543.0,212.8 543.5,212.4 544.0,212.0 544.5,211.6 545.0,211.2 545.5,210.8 546.0,210.4 546.5,210.0 547.0,209.6 547.5,209.2 548.0,208.8 548.5,208.4 549.0,208.0 549.5,207.6 550.0,207.2 550.5,206.8 551.0,206.3 551.5,205.9 552.0,205.5 552.5,205.1 553.0,204.7 553.5,204.3 554.0,203.9 554.5,203.5 555.0,203.1 555.5,202.8 556.0,202.5 556.5,202.2 557.0,201.9 557.5,201.6 558.0,201.3 558.5,201.1 559.0,200.8 559.5,200.6 560.0,200.4 560.5,200.1 561.0,199.9 561.5,199.7 562.0,199.5 562.5,199.3 563.0,199.1 563.5,198.9 564.0,198.7 564.5,198.5 565.0,198.3 565.5,198.1 566.0,197.9 566.5,197.7 567.0,197.5 567.5,197.3 568.0,197.1 568.5,196.9 569.0,196.7 569.5,196.6 570.0,196.4 570.5,196.2 571.0,196.0 571.5,195.8 572.0,195.6 572.5,195.4 573.0,195.3 573.5,195.1 574.0,194.9 574.5,194.8 575.0,194.7 575.5,194.6 576.0,194.4 576.5,194.3 577.0,194.3 577.5,194.2 578.0,194.1 578.5,194.0 579.0,194.0 579.5,193.9 580.0,193.9" fill="none" stroke="#00ff00" stroke-opacity="0.5" stroke-width="1"/>
<polygon points="580.0,193.9 580.5,193.9 581.0,193.9 581.5,194.0 582.0,194.0 582.5,194.0 583.0,194.1 583.5,194.1 584.0,194.1 584.5,194.1 585.0,194.2 585.5,194.2 586.0,194.2 586.5,194.2 587.0,194.3 587.5,194.3 588.0,194.3 588.5,194.3 589.0,194.4 589.5,194.4 590.0,194.4 590.5,194.4 591.0,194.4 591.5,194.5 592.0,194.5 592.5,194.5 593.0,194.5 593.5,194.5 594.0,194.6 594.5,194.6 595.0,194.6 595.5,194.6 596.0,194.7 596.5,194.7 597.0,194.7 597.5,194.7 598.0,194.7 598.5,194.8 599.0,194.8 599.5,194.8 600.0,194.8 600.5,194.8 601.0,194.9 601.5,194.9 602.0,194.9 602.5,194.9 603.0,194.9 603.5,195.0 604.0,195.0 604.5,195.0 605.0,195.0 605.5,195.1 606.0,195.1 606.5,195.1 607.0,195.1 607.5,195.1 608.0,195.2 608.5,195.2 609.0,195.2 609.5,195.2 610.0,195.3 610.5,195.3 611.0,195.3 611.5,195.3 612.0,195.4 612.5,195.4 613.0,195.4 613.5,195.4 614.0,195.5 614.5,195.5 615.0,195.5 615.5,195.5 616.0,195.6 616.5,195.6 617.0,195.6 617.5,195.6 618.0,195.7 618.5,195.7 619.0,195.7 619.5,195.7 620.0,195.7 620.5,195.7 621.0,195.7 621.5,195.7 622.0,195.7 622.5,195.6 623.0,195.6 623.0,195.6 622.5,195.6 622.0,195.6 621.5,195.6 621.0,195.5 620.5,195.5 620.0,195.5 619.5,195.5 619.0,195.4 618.5,195.4 618.0,195.4 617.5,195.4 617.0,195.3 616.5,195.3 616.0,195.3 615.5,195.2 615.0,195.2 614.5,195.2 614.0,195.2 613.5,195.2 613.0,195.1 612.5,195.1 612.0,195.1 611.5,195.1 611.0,195.1 610.5,195.0 610.0,195.0 609.5,195.0 609.0,195.0 608.5,194.9 608.0,194.9 607.5,194.9 607.0,194.9 606.5,194.9 606.0,194.8 605.5,194.8 605.0,194.8 604.5,194.8 604.0,194.8 603.5,194.7 603.0,194.7 602.5,194.7 602.0,194.7 601.5,194.6 601.0,194.6 600.5,194.6 600.0,194.6 599.5,194.6 599.0,194.5 598.5,194.5 598.0,194.5 597.5,194.5 597.0,194.5 596.5,194.4 596.0,194.4 595.5,194.4 595.0,194.4 594.5,194.4 594.0,194.3 593.5,194.3 593.0,194.3 592.5,194.3 592.0,194.2 591.5,194.2 591.0,194.2 590.5,194.2 590.0,194.1 589.5,194.1 589.0,194.1 588.5,194.0 588.0,194.0 587.5,194.0 587.0,194.0 586.5,193.9 586.0,193.9 585.5,193.9 585.0,193.9 584.5,193.9 584.0,193.8 583.5,193.8 583.0,193.8 582.5,193.8 582.0,193.8 581.5,193.8 581.0,193.8 580.5,193.8 580.0,193.9" fill="#ff0000" fill-opacity="0.6"/>
<polyline points="580.0,193.9 580.5,193.9 581.0,193.9 581.5,194.0 582.0,194.0 582.5,194.0 583.0,194.1 583.5,194.1 584.0,194.1 584.5,194.1 585.0,194.2 585.5,194.2 586.0,194.2 586.5,194.2 587.0,194.3 587.5,194.3 588.0,194.3 588.5,194.3 589.0,194.4 589.5,194.4 590.0,194.4 590.5,194.4 591.0,194.4 591.5,194.5 592.0,194.5 592.5,194.5 593.0,194.5 593.5,194.5 594.0,194.6 594.5,194.6 595.0,194.6 595.5,194.6 596.0,194.7 596.5,194.7 597.0,194.7 597.5,194.7 598.0,194.7 598.5,194.8 599.0,194.8 599.5,194.8 600.0,194.8 600.5,194.8 601.0,194.9 601.5,194.9 602.0,194.9 602.5,194.9 603.0,194.9 603.5,195.0 604.0,195.0 604.5,195.0 605.0,195.0 605.5,195.1 606.0,195.1 606.5,195.1 607.0,195.1 607.5,195.1 608.0,195.2 608.5,195.2 609.0,195.2 609.5,195.2 610.0,195.3 610.5,195.3 611.0,195.3 611.5,195.3 612.0,195.4 612.5,195.4 613.0,195.4 613.5,195.4 614.0,195.5 614.5,195.5 615.0,195.5 615.5,195.5 616.0,195.6 616.5,195.6 617.0,195.6 617.5,195.6 618.0,195.7 618.5,195.7 619.0,195.7 619.5,195.7 620.0,195.7 620.5,195.7 621.0,195.7 621.5,195.7 622.0,195.7 622.5,195.6 623.0,195.6" fill="none" stroke="#ff0000" stroke-opacity="0.5" stroke-width="1"/>
<polyline points="580.0,193.9 580.5,193.8 581.0,193.8 581.5,193.8 582.0,193.8 582.5,193.8 583.0,193.8 583.5,193.8 584.0,193.8 584.5,193.9 585.0,193.9 585.5,193.9 586.0,193.9 586.5,193.9 587.0,194.0 587.5,194.0 588.0,194.0 588.5,194.0 589.0,194.1 589.5,194.1 590.0,194.1 590.5,194.2 591.0,194.2 591.5,194.2 592.0,194.2 592.5,194.3 593.0,194.3 593.5,194.3 594.0,194.3 594.5,194.4 595.0,194.4 595.5,194.4 596.0,194.4 596.5,194.4 597.0,194.5 597.5,194.5 598.0,194.5 598.5,194.5 599.0,194.5 599.5,194.6 600.0,194.6 600.5,194.6 601.0,194.6 601.5,194.6 602.0,194.7 602.5,194.7 603.0,194.7 603.5,194.7 604.0,194.8 604.5,194.8 605.0,194.8 605.5,194.8 606.0,194.8 606.5,194.9 607.0,194.9 607.5,194.9 608.0,194.9 608.5,194.9 609.0,195.0 609.5,195.0 610.0,195.0 610.5,195.0 611.0,195.1 611.5,195.1 612.0,195.1 612.5,195.1 613.0,195.1 613.5,195.2 614.0,195.2 614.5,195.2 615.0,195.2 615.5,195.2 616.0,195.3 616.5,195.3 617.0,195.3 617.5,195.4 618.0,195.4 618.5,195.4 619.0,195.4 619.5,195.5 620.0,195.5 620.5,195.5 621.0,195.5 621.5,195.6 622.0,195.6 622.5,195.6 623.0,195.6" fill="none" stroke="#ff0000" stroke-opacity="0.5" stroke-width="1"/>
<polygon points="623.0,195.6 623.5,195.5 624.0,195.4 624.5,195.4 625.0,195.3 625.5,195.2 626.0,195.1 626.5,195.0 627.0,194.8 627.5,194.7 628.0,194.6 628.5,194.5 629.0,194.3 629.5,194.2 630.0,194.1 630.5,193.9 631.0,193.8 631.5,193.7 632.0,193.6 632.5,193.4 633.0,193.3 633.5,193.2 634.0,193.0 634.5,192.9 635.0,192.7 635.5,192.6 636.0,192.4 636.5,192.2 637.0,192.1 637.5,191.9 638.0,191.7 638.5,191.6 639.0,191.4 639.5,191.2 640.0,191.0 640.5,190.8 641.0,190.7 641.5,190.5 642.0,190.3 642.5,190.1 643.0,189.9 643.5,189.8 644.0,189.6 644.5,189.4 645.0,189.2 645.5,189.0 646.0,188.8 646.5,188.6 647.0,188.4 647.5,188.2 648.0,188.0 648.5,187.8 649.0,187.7 649.5,187.5 650.0,187.3 650.5,187.1 651.0,186.9 651.5,186.7 652.0,186.5 652.5,186.3 653.0,186.1 653.5,185.9 654.0,185.7 654.5,185.5 655.0,185.3 655.5,185.1 656.0,184.9 656.5,184.7 657.0,184.5 657.5,184.3 658.0,184.2 658.5,184.0 659.0,183.8 659.5,183.6 660.0,183.5 660.5,183.3 661.0,183.2 661.5,183.0 662.0,182.9 662.5,182.7 663.0,182.6 663.5,182.4 664.0,182.2 664.5,182.1 665.0,181.9 665.5,181.8 666.0,181.7 666.5,181.5 667.0,181.4 667.5,181.3 668.0,181.2 668.5,181.1 669.0,181.1 669.5,181.0 670.0,181.0 670.5,181.0 671.0,181.0 671.5,181.0 672.0,181.0 672.5,181.0 673.0,181.0 673.5,181.0 674.0,181.0 674.5,181.0 675.0,181.0 675.5,181.0 676.0,181.0 676.0,181.0 675.5,181.0 675.0,181.0 674.5,181.1 674.0,181.2 673.5,181.2 673.0,181.3 672.5,181.4 672.0,181.6 671.5,181.7 671.0,181.8 670.5,182.0 670.0,182.1 669.5,182.3 669.0,182.4 668.5,182.6 668.0,182.7 667.5,182.9 667.0,183.1 666.5,183.2 666.0,183.3 665.5,183.5 665.0,183.7 664.5,183.8 664.0,184.0 663.5,184.2 663.0,184.4 662.5,184.6 662.0,184.8 661.5,185.0 661.0,185.2 660.5,185.4 660.0,185.6 659.5,185.8 659.0,186.0 658.5,186.2 658.0,186.4 657.5,186.5 657.0,186.7 656.5,186.9 656.0,187.1 655.5,187.3 655.0,187.5 654.5,187.7 654.0,187.9 653.5,188.1 653.0,188.3 652.5,188.5 652.0,188.7 651.5,188.9 651.0,189.0 650.5,189.2 650.0,189.4 649.5,189.6 649.0,189.8 648.5,190.0 648.0,190.2 647.5,190.3 647.0,190.5 646.5,190.7 646.0,190.9 645.5,191.1 645.0,191.2 644.5,191.4 644.0,191.6 643.5,191.8 643.0,191.9 642.5,192.1 642.0,192.3 641.5,192.4 641.0,192.6 640.5,192.8 640.0,192.9 639.5,193.1 639.0,193.2 638.5,193.3 638.0,193.4 637.5,193.6 637.0,193.7 636.5,193.8 636.0,194.0 635.5,194.1 635.0,194.2 634.5,194.4 634.0,194.5 633.5,194.6 633.0,194.7 632.5,194.9 632.0,195.0 631.5,195.1 631.0,195.2 630.5,195.3 630.0,195.4 629.5,195.5 629.0,195.5 628.5,195.6 628.0,195.6 627.5,195.7 627.0,195.7 626.5,195.7 626.0,195.7 625.5,195.7 625.0,195.7 624.5,195.7 624.0,195.7 623.5,195.6 623.0,195.6" fill="#00ff00" fill-opacity="0.6"/>
<polyline points="623.0,195.6 623.5,195.5 624.0,195.4 624.5,195.4 625.0,195.3 625.5,195.2 626.0,195.1 626.5,195.0 627.0,194.8 627.5,194.7 628.0,194.6 628.5,194.5 629.0,194.3 629.5,194.2 630.0,194.1 630.5,193.9 631.0,193.8 631.5,193.7 632.0,193.6 632.5,193.4 633.0,193.3 633.5,193.2 634.0,193.0 634.5,192.9 635.0,192.7 635.5,192.6 636.0,192.4 636.5,192.2 637.0,192.1 637.5,191.9 638.0,191.7 638.5,191.6 639.0,191.4 639.5,191.2 640.0,191.0 640.5,190.8 641.0,190.7 641.5,190.5 642.0,190.3 642.5,190.1 643.0,189.9 643.5,189.8 644.0,189.6 644.5,189.4 645.0,189.2 645.5,189.0 646.0,188.8 646.5,188.6 647.0,188.4 647.5,188.2 648.0,188.0 648.5,187.8 649.0,187.7 649.5,187.5 650.0,187.3 650.5,187.1 651.0,186.9 651.5,186.7 652.0,186.5 652.5,186.3 653.0,186.1 653.5,185.9 654.0,185.7 654.5,185.5 655.0,185.3 655.5,185.1 656.0,184.9 656.5,184.7 657.0,184.5 657.5,184.3 658.0,184.2 658.5,184.0 659.0,183.8 659.5,183.6 660.0,183.5 660.5,183.3 661.0,183.2 661.5,183.0 662.0,182.9 662.5,182.7 663.0,182.6 663.5,182.4 664.0,182.2 664.5,182.1 665.0,181.9 665.5,181.8 666.0,181.7 666.5,181.5 667.0,181.4 667.5,181.3 668.0,181.2 668.5,181.1 669.0,181.1 669.5,181.0 670.0,181.0 670.5,181.0 671.0,181.0 671.5,181.0 672.0,181.0 672.5,181.0 673.0,181.0 673.5,181.0 674.0,181.0 674.5,181.0 675.0,181.0 675.5,181.0 676.0,181.0" fill="none" stroke="#00ff00" stroke-opacity="0.5" stroke-width="1"/>
<polyline points="623.0,195.6 623.5,195.6 624.0,195.7 624.5,195.7 625.0,195.7 625.5,195.7 626.0,195.7 626.5,195.7 627.0,195.7 627.5,195.7 628.0,195.6 628.5,195.6 629.0,195.5 629.5,195.5 630.0,195.4 630.5,195.3 631.0,195.2 631.5,195.1 632.0,195.0 632.5,194.9 633.0,194.7 633.5,194.6 634.0,194.5 634.5,194.4 635.0,194.2 635.5,194.1 636.0,194.0 636.5,193.8 637.0,193.7 637.5,193.6 638.0,193.4 638.5,193.3 639.0,193.2 639.5,193.1 640.0,192.9 640.5,192.8 641.0,192.6 641.5,192.4 642.0,192.3 642.5,192.1 643.0,191.9 643.5,191.8 644.0,191.6 644.5,191.4 645.0,191.2 645.5,191.1 646.0,190.9 646.5,190.7 647.0,190.5 647.5,190.3 648.0,190.2 648.5,190.0 649.0,189.8 649.5,189.6 650.0,189.4 650.5,189.2 651.0,189.0 651.5,188.9 652.0,188.7 652.5,188.5 653.0,188.3 653.5,188.1 654.0,187.9 654.5,187.7 655.0,187.5 655.5,187.3 656.0,187.1 656.5,186.9 657.0,186.7 657.5,186.5 658.0,186.4 658.5,186.2 659.0,186.0 659.5,185.8 660.0,185.6 660.5,185.4 661.0,185.2 661.5,185.0 662.0,184.8 662.5,184.6 663.0,184.4 663.5,184.2 664.0,184.0 664.5,183.8 665.0,183.7 665.5,183.5 666.0,183.3 666.5,183.2 667.0,183.1 667.5,182.9 668.0,182.7 668.5,182.6 669.0,182.4 669.5,182.3 670.0,182.1 670.5,182.0 671.0,181.8 671.5,181.7 672.0,181.6 672.5,181.4 673.0,181.3 673.5,181.2 674.0,181.2 674.5,181.1 675.0,181.0 675.5,181.0 676.0,181.0" fill="none" stroke="#00ff00" stroke-opacity="0.5" stroke-width="1"/>
<polygon points="676.0,181.0 676.5,181.0 677.0,181.0 677.5,181.0 678.0,181.0 678.5,181.0 679.0,181.0 679.5,181.0 680.0,181.0 680.5,181.0 681.0,181.0 681.5,181.0 682.0,181.0 682.5,181.0 683.0,181.0 683.5,181.0 684.0,181.0 684.5,181.0 685.0,181.0 685.5,181.0 686.0,181.0 686.5,181.1 687.0,181.1 687.5,181.2 688.0,181.3 688.5,181.3 689.0,181.4 689.5,181.5 690.0,181.6 690.5,181.7 691.0,181.8 691.5,181.9 692.0,182.0 692.5,182.1 693.0,182.3 693.5,182.4 694.0,182.5 694.5,182.6 695.0,182.8 695.5,182.9 696.0,183.1 696.5,183.3 697.0,183.5 697.5,183.7 698.0,183.9 698.5,184.2 699.0,184.4 699.5,184.7 700.0,184.9 700.5,185.2 701.0,185.5 701.5,185.8 702.0,186.1 702.5,186.4 703.0,186.8 703.5,187.1 704.0,187.5 704.5,187.9 705.0,188.3 705.5,188.8 706.0,189.2 706.5,189.6 707.0,190.0 707.5,190.4 708.0,190.8 708.5,191.2 709.0,191.6 709.5,192.0 710.0,192.4 710.5,192.8 711.0,193.3 711.5,193.7 712.0,194.1 712.5,194.5 713.0,194.9 713.5,195.3 714.0,195.7 714.5,196.1 715.0,196.5 715.5,196.9 716.0,197.3 716.5,197.7 717.0,198.1 717.5,198.5 718.0,198.8 718.5,199.2 719.0,199.6 719.5,200.0 720.0,200.3 720.5,200.7 721.0,201.1 721.5,201.5 722.0,201.8 722.5,202.2 723.0,202.6 723.5,202.9 724.0,203.2 724.5,203.6 725.0,203.9 725.5,204.2 726.0,204.5 726.5,204.8 727.0,205.1 727.5,205.4 728.0,205.6 728.5,205.9 729.0,206.1 729.5,206.4 730.0,206.6 730.5,206.9 731.0,207.1 731.5,207.3 732.0,207.6 732.5,207.8 733.0,208.0 733.5,208.2 734.0,208.4 734.5,208.6 735.0,208.7 735.5,208.9 736.0,209.0 736.5,209.2 737.0,209.3 737.5,209.4 738.0,209.6 738.5,209.7 739.0,209.8 739.5,209.9 740.0,210.0 740.5,210.1 741.0,210.2 741.5,210.3 742.0,210.4 742.5,210.5 743.0,210.6 743.5,210.6 744.0,210.7 744.5,210.8 745.0,210.9 745.5,210.9 746.0,211.0 746.5,211.0 747.0,211.1 747.5,211.1 748.0,211.2 748.5,211.2 749.0,211.2 749.5,211.3 750.0,211.3 750.5,211.4 751.0,211.4 751.5,211.5 752.0,211.5 752.5,211.6 753.0,211.7 753.5,211.8 754.0,212.0 754.5,212.1 755.0,212.3 755.5,212.4 756.0,212.6 756.5,212.8 757.0,213.0 757.5,213.2 758.0,213.4 758.5,213.7 759.0,213.9 759.5,214.1 760.0,214.4 760.5,214.6 761.0,214.9 761.5,215.2 762.0,215.5 762.5,215.8 763.0,216.1 763.5,216.5 764.0,216.9 764.5,217.3 765.0,217.8 765.5,218.2 766.0,218.7 766.5,219.2 767.0,219.7 767.5,220.2 768.0,220.7 768.5,221.2 769.0,221.7 769.5,222.2 770.0,222.8 770.5,223.3 771.0,223.8 771.5,224.4 772.0,224.9 772.5,225.5 773.0,226.1 773.5,226.7 774.0,227.3 774.5,228.0 775.0,228.6 775.5,229.2 776.0,229.9 776.5,230.6 777.0,231.2 777.5,231.9 778.0,232.6 778.5,233.2 779.0,233.9 779.5,234.5 780.0,235.2 780.5,235.9 781.0,236.5 781.5,237.2 782.0,237.9 782.5,238.6 783.0,239.3 783.5,240.0 784.0,240.7 784.5,241.4 785.0,242.0 785.5,242.7 786.0,243.4 786.5,244.1 787.0,244.8 787.5,245.5 788.0,246.2 788.5,246.9 789.0,247.5 789.5,248.2 790.0,248.9 790.5,249.5 791.0,250.2 791.5,250.8 792.0,251.5 792.5,252.1 793.0,252.8 793.5,253.4 794.0,254.1 794.5,254.7 795.0,255.3 795.5,256.0 796.0,256.6 796.5,257.2 797.0,257.8 797.5,258.4 798.0,259.0 798.5,259.6 799.0,260.1 799.5,260.7 800.0,261.2 800.5,261.8 801.0,262.3 801.5,262.8 802.0,263.4 802.5,263.9 803.0,264.4 803.5,264.9 804.0,265.4 804.5,265.9 805.0,266.4 805.5,266.9 806.0,267.3 806.5,267.8 807.0,268.3 807.5,268.7 808.0,269.2 808.5,269.6 809.0,270.0 809.5,270.4 810.0,270.8 810.5,271.2 811.0,271.6 811.5,272.0 812.0,272.4 812.5,272.8 813.0,273.2 813.5,273.6 814.0,273.9 814.5,274.3 815.0,274.6 815.5,275.0 816.0,275.3 816.5,275.7 817.0,276.0 817.5,276.3 818.0,276.7 818.5,277.0 819.0,277.3 819.5,277.6 820.0,277.9 820.5,278.3 821.0,278.6 821.5,278.9 822.0,279.1 822.5,279.4 823.0,279.7 823.5,280.0 824.0,280.2 824.5,280.4 825.0,280.6 825.5,280.9 826.0,281.1 826.5,281.3 827.0,281.5 827.5,281.7 828.0,281.9 828.5,282.0 829.0,282.1 829.5,282.2 830.0,282.2 830.5,282.2 831.0,282.1 831.5,282.0 832.0,281.9 832.5,281.8 833.0,281.6 833.0,281.7 832.5,281.5 832.0,281.3 831.5,281.0 831.0,280.8 830.5,280.6 830.0,280.4 829.5,280.2 829.0,279.9 828.5,279.6 828.0,279.4 827.5,279.1 827.0,278.8 826.5,278.5 826.0,278.2 825.5,277.9 825.0,277.6 824.5,277.2 824.0,276.9 823.5,276.6 823.0,276.3 822.5,275.9 822.0,275.6 821.5,275.3 821.0,274.9 820.5,274.6 820.0,274.2 819.5,273.9 819.0,273.5 818.5,273.1 818.0,272.7 817.5,272.4 817.0,272.0 816.5,271.6 816.0,271.2 815.5,270.8 815.0,270.3 814.5,269.9 814.0,269.5 813.5,269.1 813.0,268.6 812.5,268.2 812.0,267.7 811.5,267.3 811.0,266.8 810.5,266.3 810.0,265.8 809.5,265.3 809.0,264.8 808.5,264.3 808.0,263.8 807.5,263.3 807.0,262.7 806.5,262.2 806.0,261.6 805.5,261.1 805.0,260.6 804.5,260.0 804.0,259.4 803.5,258.9 803.0,258.3 802.5,257.7 802.0,257.1 801.5,256.5 801.0,255.8 800.5,255.2 800.0,254.6 799.5,253.9 799.0,253.3 798.5,252.7 798.0,252.0 797.5,251.3 797.0,250.7 796.5,250.0 796.0,249.4 795.5,248.7 795.0,248.1 794.5,247.4 794.0,246.7 793.5,246.1 793.0,245.4 792.5,244.7 792.0,244.0 791.5,243.3 791.0,242.6 790.5,241.9 790.0,241.2 789.5,240.5 789.0,239.8 788.5,239.1 788.0,238.4 787.5,237.7 787.0,237.1 786.5,236.4 786.0,235.7 785.5,235.1 785.0,234.4 784.5,233.7 784.0,233.1 783.5,232.4 783.0,231.8 782.5,231.1 782.0,230.4 781.5,229.8 781.0,229.1 780.5,228.5 780.0,227.8 779.5,227.2 779.0,226.6 778.5,226.0 778.0,225.4 777.5,224.8 777.0,224.3 776.5,223.7 776.0,223.2 775.5,222.7 775.0,222.1 774.5,221.6 774.0,221.1 773.5,220.6 773.0,220.1 772.5,219.6 772.0,219.1 771.5,218.6 771.0,218.1 770.5,217.7 770.0,217.2 769.5,216.8 769.0,216.4 768.5,216.1 768.0,215.7 767.5,215.4 767.0,215.1 766.5,214.8 766.0,214.6 765.5,214.3 765.0,214.1 764.5,213.9 764.0,213.6 763.5,213.4 763.0,213.2 762.5,213.0 762.0,212.8 761.5,212.6 761.0,212.4 760.5,212.2 760.0,212.1 759.5,211.9 759.0,211.8 758.5,211.7 758.0,211.6 757.5,211.5 757.0,211.5 756.5,211.4 756.0,211.4 755.5,211.3 755.0,211.3 754.5,211.2 754.0,211.2 753.5,211.2 753.0,211.1 752.5,211.1 752.0,211.0 751.5,211.0 751.0,210.9 750.5,210.8 750.0,210.8 749.5,210.7 749.0,210.6 748.5,210.5 748.0,210.5 747.5,210.4 747.0,210.3 746.5,210.2 746.0,210.1 745.5,210.0 745.0,209.9 744.5,209.8 744.0,209.6 743.5,209.5 743.0,209.4 742.5,209.3 742.0,209.1 741.5,209.0 741.0,208.9 740.5,208.7 740.0,208.5 739.5,208.3 739.0,208.1 738.5,207.9 738.0,207.7 737.5,207.5 737.0,207.3 736.5,207.1 736.0,206.8 735.5,206.6 735.0,206.3 734.5,206.1 734.0,205.8 733.5,205.6 733.0,205.3 732.5,205.0 732.0,204.8 731.5,204.5 731.0,204.2 730.5,203.8 730.0,203.5 729.5,203.2 729.0,202.8 728.5,202.5 728.0,202.1 727.5,201.8 727.0,201.4 726.5,201.0 726.0,200.6 725.5,200.3 725.0,199.9 724.5,199.5 724.0,199.1 723.5,198.7 723.0,198.4 722.5,198.0 722.0,197.6 721.5,197.2 721.0,196.8 720.5,196.4 720.0,196.0 719.5,195.6 719.0,195.2 718.5,194.8 718.0,194.4 717.5,194.0 717.0,193.6 716.5,193.2 716.0,192.8 715.5,192.4 715.0,192.0 714.5,191.6 714.0,191.2 713.5,190.8 713.0,190.4 712.5,189.9 712.0,189.5 711.5,189.1 711.0,188.7 710.5,188.3 710.0,187.9 709.5,187.5 709.0,187.1 708.5,186.7 708.0,186.3 707.5,186.0 707.0,185.7 706.5,185.4 706.0,185.2 705.5,184.9 705.0,184.6 704.5,184.4 704.0,184.1 703.5,183.9 703.0,183.7 702.5,183.5 702.0,183.3 701.5,183.1 701.0,182.9 700.5,182.7 700.0,182.6 699.5,182.5 699.0,182.4 698.5,182.2 698.0,182.1 697.5,182.0 697.0,181.9 696.5,181.8 696.0,181.7 695.5,181.6 695.0,181.5 694.5,181.4 694.0,181.3 693.5,181.2 693.0,181.2 692.5,181.1 692.0,181.1 691.5,181.0 691.0,181.0 690.5,181.0 690.0,181.0 689.5,181.0 689.0,181.0 688.5,181.0 688.0,181.0 687.5,181.0 687.0,181.0 686.5,181.0 686.0,181.0 685.5,181.0 685.0,181.0 684.5,181.0 684.0,181.0 683.5,181.0 683.0,181.0 682.5,181.0 682.0,181.0 681.5,181.0 681.0,181.0 680.5,181.0 680.0,181.0 679.5,181.0 679.0,181.0 678.5,181.0 678.0,181.0 677.5,181.0 677.0,181.0 676.5,181.0 676.0,181.0" fill="#ff0000" fill-opacity="0.6"/>
<polyline points="676.0,181.0 676.5,181.0 677.0,181.0 677.5,181.0 678.0,181.0 678.5,181.0 679.0,181.0 679.5,181.0 680.0,181.0 680.5,181.0 681.0,181.0 681.5,181.0 682.0,181.0 682.5,181.0 683.0,181.0 683.5,181.0 684.0,181.0 684.5,181.0 685.0,181.0 685.5,181.0 686.0,181.0 686.5,181.1 687.0,181.1 687.5,181.2 688.0,181.3 688.5,181.3 689.0,181.4 689.5,181.5 690.0,181.6 690.5,181.7 691.0,181.8 691.5,181.9 692.0,182.0 692.5,182.1 693.0,182.3 693.5,182.4 694.0,182.5 694.5,182.6 695.0,182.8 695.5,182.9 696.0,183.1 696.5,183.3 697.0,183.5 697.5,183.7 698.0,183.9 698.5,184.2 699.0,184.4 699.5,184.7 700.0,184.9 700.5,185.2 701.0,185.5 701.5,185.8 702.0,186.1 702.5,186.4 703.0,186.8 703.5,187.1 704.0,187.5 704.5,187.9 705.0,188.3 705.5,188.8 706.0,189.2 706.5,189.6 707.0,190.0 707.5,190.4 708.0,190.8 708.5,191.2 709.0,191.6 709.5,192.0 710.0,192.4 710.5,192.8 711.0,193.3 711.5,193.7 712.0,194.1 712.5,194.5 713.0,194.9 713.5,195.3 714.0,195.7 714.5,196.1 715.0,196.5 715.5,196.9 716.0,197.3 716.5,197.7 717.0,198.1 717.5,198.5 718.0,198.8 718.5,199.2 719.0,199.6 719.5,200.0 720.0,200.3 720.5,200.7 721.0,201.1 721.5,201.5 722.0,201.8 722.5,202.2 723.0,202.6 723.5,202.9 724.0,203.2 724.5,203.6 725.0,203.9 725.5,204.2 726.0,204.5 726.5,204.8 727.0,205.1 727.5,205.4 728.0,205.6 728.5,205.9 729.0,206.1 729.5,206.4 730.0,206.6 730.5,206.9 731.0,207.1 731.5,207.3 732.0,207.6 732.5,207.8 733.0,208.0 733.5,208.2 734.0,208.4 734.5,208.6 735.0,208.7 735.5,208.9 736.0,209.0 736.5,209.2 737.0,209.3 737.5,209.4 738.0,209.6 738.5,209.7 739.0,209.8 739.5,209.9 740.0,210.0 740.5,210.1 741.0,210.2 741.5,210.3 742.0,210.4 742.5,210.5 743.0,210.6 743.5,210.6 744.0,210.7 744.5,210.8 745.0,210.9 745.5,210.9 746.0,211.0 746.5,211.0 747.0,211.1 747.5,211.1 748.0,211.2 748.5,211.2 749.0,211.2 749.5,211.3 750.0,211.3 750.5,211.4 751.0,211.4 751.5,211.5 752.0,211.5 752.5,211.6 753.0,211.7 753.5,211.8 754.0,212.0 754.5,212.1 755.0,212.3 755.5,212.4 756.0,212.6 756.5,212.8 757.0,213.0 757.5,213.2 758.0,213.4 758.5,213.7 759.0,213.9 759.5,214.1 760.0,214.4 760.5,214.6 761.0,214.9 761.5,215.2 762.0,215.5 762.5,215.8 763.0,216.1 763.5,216.5 764.0,216.9 764.5,217.3 765.0,217.8 765.5,218.2 766.0,218.7 766.5,219.2 767.0,219.7 767.5,220.2 768.0,220.7 768.5,221.2 769.0,221.7 769.5,222.2 770.0,222.8 770.5,223.3 771.0,223.8 771.5,224.4 772.0,224.9 772.5,225.5 773.0,226.1 773.5,226.7 774.0,227.3 774.5,228.0 775.0,228.6 775.5,229.2 776.0,229.9 776.5,230.6 777.0,231.2 777.5,231.9 778.0,232.6 778.5,233.2 779.0,233.9 779.5,234.5 780.0,235.2 780.5,235.9 781.0,236.5 781.5,237.2 782.0,237.9 782.5,238.6 783.0,239.3 783.5,240.0 784.0,240.7 784.5,241.4 785.0,242.0 785.5,242.7 786.0,243.4 786.5,244.1 787.0,244.8 787.5,245.5 788.0,246.2 788.5,246.9 789.0,247.5 789.5,248.2 790.0,248.9 790.5,249.5 791.0,250.2 791.5,250.8 792.0,251.5 792.5,252.1 793.0,252.8 793.5,253.4 794.0,254.1 794.5,254.7 795.0,255.3 795.5,256.0 796.0,256.6 796.5,257.2 797.0,257.8 797.5,258.4 798.0,259.0 798.5,259.6 799.0,260.1 799.5,260.7 800.0,261.2 800.5,261.8 801.0,262.3 801.5,262.8 802.0,263.4 802.5,263.9 803.0,264.4 803.5,264.9 804.0,265.4 804.5,265.9 805.0,266.4 805.5,266.9 806.0,267.3 806.5,267.8 807.0,268.3 807.5,268.7 808.0,269.2 808.5,269.6 809.0,270.0 809.5,270.4 810.0,270.8 810.5,271.2 811.0,271.6 811.5,272.0 812.0,272.4 812.5,272.8 813.0,273.2 813.5,273.6 814.0,273.9 814.5,274.3 815.0,274.6 815.5,275.0 816.0,275.3 816.5,275.7 817.0,276.0 817.5,276.3 818.0,276.7 818.5,277.0 819.0,277.3 819.5,277.6 820.0,277.9 820.5,278.3 821.0,278.6 821.5,278.9 822.0,279.1 822.5,279.4 823.0,279.7 823.5,280.0 824.0,280.2 824.5,280.4 825.0,280.6 825.5,280.9 826.0,281.1 826.5,281.3 827.0,281.5 827.5,281.7 828.0,281.9 828.5,282.0 829.0,282.1 829.5,282.2 830.0,282.2 830.5,282.2 831.0,282.1 831.5,282.0 832.0,281.9 832.5,281.8 833.0,281.6" fill="none" stroke="#ff0000" stroke-opacity="0.5" stroke-width="1"/>
<polyline points="676.0,181.0 676.5,181.0 677.0,181.0 677.5,181.0 678.0,181.0 678.5,181.0 679.0,181.0 679.5,181.0 680.0,181.0 680.5,181.0 681.0,181.0 681.5,181.0 682.0,181.0 682.5,181.0 683.0,181.0 683.5,181.0 684.0,181.0 684.5,181.0 685.0,181.0 685.5,181.0 686.0,181.0 686.5,181.0 687.0,181.0 687.5,181.0 688.0,181.0 688.5,181.0 689.0,181.0 689.5,181.0 690.0,181.0 690.5,181.0 691.0,181.0 691.5,181.0 692.0,181.1 692.5,181.1 693.0,181.2 693.5,181.2 694.0,181.3 694.5,181.4 695.0,181.5 695.5,181.6 696.0,181.7 696.5,181.8 697.0,181.9 697.5,182.0 698.0,182.1 698.5,182.2 699.0,182.4 699.5,182.5 700.0,182.6 700.5,182.7 701.0,182.9 701.5,183.1 702.0,183.3 702.5,183.5 703.0,183.7 703.5,183.9 704.0,184.1 704.5,184.4 705.0,184.6 705.5,184.9 706.0,185.2 706.5,185.4 707.0,185.7 707.5,186.0 708.0,186.3 708.5,186.7 709.0,187.1 709.5,187.5 710.0,187.9 710.5,188.3 711.0,188.7 711.5,189.1 712.0,189.5 712.5,189.9 713.0,190.4 713.5,190.8 714.0,191.2 714.5,191.6 715.0,192.0 715.5,192.4 716.0,192.8 716.5,193.2 717.0,193.6 717.5,194.0 718.0,194.4 718.5,194.8 719.0,195.2 719.5,195.6 720.0,196.0 720.5,196.4 721.0,196.8 721.5,197.2 722.0,197.6 722.5,198.0 723.0,198.4 723.5,198.7 724.0,199.1 724.5,199.5 725.0,199.9 725.5,200.3 726.0,200.6 726.5,201.0 727.0,201.4 727.5,201.8 728.0,202.1 728.5,202.5 729.0,202.8 729.5,203.2 730.0,203.5 730.5,203.8 731.0,204.2 731.5,204.5 732.0,204.8 732.5,205.0 733.0,205.3 733.5,205.6 734.0,205.8 734.5,206.1 735.0,206.3 735.5,206.6 736.0,206.8 736.5,207.1 737.0,207.3 737.5,207.5 738.0,207.7 738.5,207.9 739.0,208.1 739.5,208.3 740.0,208.5 740.5,208.7 741.0,208.9 741.5,209.0 742.0,209.1 742.5,209.3 743.0,209.4 743.5,209.5 744.0,209.6 744.5,209.8 745.0,209.9 745.5,210.0 746.0,210.1 746.5,210.2 747.0,210.3 747.5,210.4 748.0,210.5 748.5,210.5 749.0,210.6 749.5,210.7 750.0,210.8 750.5,210.8 751.0,210.9 751.5,211.0 752.0,211.0 752.5,211.1 753.0,211.1 753.5,211.2 754.0,211.2 754.5,211.2 755.0,211.3 755.5,211.3 756.0,211.4 756.5,211.4 757.0,211.5 757.5,211.5 758.0,211.6 758.5,211.7 759.0,211.8 759.5,211.9 760.0,212.1 760.5,212.2 761.0,212.4 761.5,212.6 762.0,212.8 762.5,213.0 763.0,213.2 763.5,213.4 764.0,213.6 764.5,213.9 765.0,214.1 765.5,214.3 766.0,214.6 766.5,214.8 767.0,215.1 767.5,215.4 768.0,215.7 768.5,216.1 769.0,216.4 769.5,216.8 770.0,217.2 770.5,217.7 771.0,218.1 771.5,218.6 772.0,219.1 772.5,219.6 773.0,220.1 773.5,220.6 774.0,221.1 774.5,221.6 775.0,222.1 775.5,222.7 776.0,223.2 776.5,223.7 777.0,224.3 777.5,224.8 778.0,225.4 778.5,226.0 779.0,226.6 779.5,227.2 780.0,227.8 780.5,228.5 781.0,229.1 781.5,229.8 782.0,230.4 782.5,231.1 783.0,231.8 783.5,232.4 784.0,233.1 784.5,233.7 785.0,234.4 785.5,235.1 786.0,235.7 786.5,236.4 787.0,237.1 787.5,237.7 788.0,238.4 788.5,239.1 789.0,239.8 789.5,240.5 790.0,241.2 790.5,241.9 791.0,242.6 791.5,243.3 792.0,244.0 792.5,244.7 793.0,245.4 793.5,246.1 794.0,246.7 794.5,247.4 795.0,248.1 795.5,248.7 796.0,249.4 796.5,250.0 797.0,250.7 797.5,251.3 798.0,252.0 798.5,252.7 799.0,253.3 799.5,253.9 800.0,254.6 800.5,255.2 801.0,255.8 801.5,256.5 802.0,257.1 802.5,257.7 803.0,258.3 803.5,258.9 804.0,259.4 804.5,260.0 805.0,260.6 805.5,261.1 806.0,261.6 806.5,262.2 807.0,262.7 807.5,263.3 808.0,263.8 808.5,264.3 809.0,264.8 809.5,265.3 810.0,265.8 810.5,266.3 811.0,266.8 811.5,267.3 812.0,267.7 812.5,268.2 813.0,268.6 813.5,269.1 814.0,269.5 814.5,269.9 815.0,270.3 815.5,270.8 816.0,271.2 816.5,271.6 817.0,272.0 817.5,272.4 818.0,272.7 818.5,273.1 819.0,273.5 819.5,273.9 820.0,274.2 820.5,274.6 821.0,274.9 821.5,275.3 822.0,275.6 822.5,275.9 823.0,276.3 823.5,276.6 824.0,276.9 824.5,277.2 825.0,277.6 825.5,277.9 826.0,278.2 826.5,278.5 827.0,278.8 827.5,279.1 828.0,279.4 828.5,279.6 829.0,279.9 829.5,280.2 830.0,280.4 830.5,280.6 831.0,280.8 831.5,281.0 832.0,281.3 832.5,281.5 833.0,281.7" fill="none" stroke="#ff0000" stroke-opacity="0.5" stroke-width="1"/>
<polygon points="833.0,281.6 833.5,281.5 834.0,281.4 834.5,281.2 835.0,281.1 835.5,280.9 836.0,280.8 836.5,280.6 837.0,280.4 837.5,280.2 838.0,280.0 838.5,279.8 839.0,279.6 839.5,279.4 840.0,279.2 840.5,279.0 841.0,278.7 841.5,278.5 842.0,278.2 842.5,278.0 843.0,277.7 843.5,277.4 844.0,277.2 844.5,276.9 845.0,276.6 845.5,276.3 846.0,276.0 846.5,275.7 847.0,275.5 847.5,275.2 848.0,274.9 848.5,274.6 849.0,274.3 849.5,273.9 850.0,273.6 850.5,273.3 851.0,273.0 851.5,272.7 852.0,272.3 852.5,272.0 853.0,271.7 853.5,271.3 854.0,271.0 854.5,270.6 855.0,270.3 855.5,269.9 856.0,269.6 856.5,269.2 857.0,268.9 857.5,268.5 858.0,268.1 858.5,267.8 859.0,267.4 859.5,267.1 860.0,266.7 860.5,266.3 861.0,265.9 861.5,265.6 862.0,265.1 862.5,264.7 863.0,264.3 863.5,263.8 864.0,263.4 864.5,262.9 865.0,262.4 865.5,261.9 866.0,261.4 866.5,260.9 867.0,260.4 867.5,259.9 868.0,259.4 868.5,258.9 869.0,258.3 869.5,257.8 870.0,257.3 870.5,256.8 871.0,256.2 871.5,255.7 872.0,255.2 872.5,254.7 873.0,254.2 873.5,253.6 874.0,253.1 874.5,252.6 875.0,252.1 875.5,251.6 876.0,251.1 876.5,250.6 877.0,250.1 877.5,249.7 878.0,249.2 878.5,248.7 879.0,248.2 879.5,247.8 880.0,247.3 880.5,246.9 881.0,246.4 881.5,246.0 882.0,245.5 882.5,245.1 883.0,244.7 883.5,244.3 884.0,243.9 884.5,243.5 885.0,243.1 885.5,242.7 886.0,242.3 886.5,241.9 887.0,241.6 887.5,241.3 888.0,241.0 888.5,240.7 889.0,240.5 889.5,240.2 890.0,240.0 890.5,239.8 891.0,239.6 891.5,239.4 892.0,239.2 892.5,239.0 893.0,238.8 893.5,238.7 894.0,238.5 894.5,238.4 895.0,238.2 895.5,238.1 896.0,237.9 896.5,237.8 897.0,237.7 897.5,237.5 898.0,237.4 898.5,237.3 899.0,237.2 899.5,237.1 900.0,237.0 900.5,236.9 901.0,236.8 901.5,236.8 902.0,236.7 902.5,236.6 903.0,236.6 903.5,236.5 904.0,236.5 904.5,236.4 905.0,236.4 905.5,236.3 906.0,236.3 906.5,236.3 907.0,236.2 907.5,236.2 908.0,236.2 908.5,236.2 909.0,236.2 909.5,236.2 910.0,236.3 910.5,236.3 911.0,236.3 911.5,236.4 911.5,236.3 911.0,236.3 910.5,236.4 910.0,236.4 909.5,236.5 909.0,236.5 908.5,236.6 908.0,236.7 907.5,236.7 907.0,236.8 906.5,236.8 906.0,236.9 905.5,237.0 905.0,237.1 904.5,237.2 904.0,237.3 903.5,237.4 903.0,237.6 902.5,237.7 902.0,237.8 901.5,238.0 901.0,238.1 900.5,238.2 900.0,238.4 899.5,238.5 899.0,238.7 898.5,238.9 898.0,239.0 897.5,239.2 897.0,239.4 896.5,239.6 896.0,239.8 895.5,240.0 895.0,240.3 894.5,240.5 894.0,240.8 893.5,241.1 893.0,241.4 892.5,241.7 892.0,242.0 891.5,242.4 891.0,242.8 890.5,243.2 890.0,243.6 889.5,244.0 889.0,244.4 888.5,244.8 888.0,245.2 887.5,245.6 887.0,246.1 886.5,246.5 886.0,247.0 885.5,247.4 885.0,247.9 884.5,248.3 884.0,248.8 883.5,249.3 883.0,249.7 882.5,250.2 882.0,250.7 881.5,251.2 881.0,251.7 880.5,252.2 880.0,252.7 879.5,253.2 879.0,253.7 878.5,254.3 878.0,254.8 877.5,255.3 877.0,255.8 876.5,256.3 876.0,256.9 875.5,257.4 875.0,257.9 874.5,258.5 874.0,259.0 873.5,259.5 873.0,260.0 872.5,260.5 872.0,261.0 871.5,261.5 871.0,262.0 870.5,262.5 870.0,263.0 869.5,263.5 869.0,263.9 868.5,264.4 868.0,264.8 867.5,265.2 867.0,265.6 866.5,266.0 866.0,266.4 865.5,266.8 865.0,267.1 864.5,267.5 864.0,267.9 863.5,268.2 863.0,268.6 862.5,268.9 862.0,269.3 861.5,269.6 861.0,270.0 860.5,270.4 860.0,270.7 859.5,271.1 859.0,271.4 858.5,271.7 858.0,272.1 857.5,272.4 857.0,272.7 856.5,273.1 856.0,273.4 855.5,273.7 855.0,274.0 854.5,274.3 854.0,274.6 853.5,274.9 853.0,275.2 852.5,275.5 852.0,275.8 851.5,276.1 851.0,276.4 850.5,276.7 850.0,276.9 849.5,277.2 849.0,277.5 848.5,277.8 848.0,278.0 847.5,278.3 847.0,278.5 846.5,278.8 846.0,279.0 845.5,279.2 845.0,279.4 844.5,279.7 844.0,279.9 843.5,280.1 843.0,280.3 842.5,280.5 842.0,280.6 841.5,280.8 841.0,280.9 840.5,281.1 840.0,281.2 839.5,281.4 839.0,281.5 838.5,281.7 838.0,281.8 837.5,281.9 837.0,282.0 836.5,282.1 836.0,282.2 835.5,282.2 835.0,282.2 834.5,282.1 834.0,282.0 833.5,281.9 833.0,281.7" fill="#00ff00" fill-opacity="0.6"/>
<polyline points="833.0,281.6 833.5,281.5 834.0,281.4 834.5,281.2 835.0,281.1 835.5,280.9 836.0,280.8 836.5,280.6 837.0,280.4 837.5,280.2 838.0,280.0 838.5,279.8 839.0,279.6 839.5,279.4 840.0,279.2 840.5,279.0 841.0,278.7 841.5,278.5 842.0,278.2 842.5,278.0 843.0,277.7 843.5,277.4 844.0,277.2 844.5,276.9 845.0,276.6 845.5,276.3 846.0,276.0 846.5,275.7 847.0,275.5 847.5,275.2 848.0,274.9 848.5,274.6 849.0,274.3 849.5,273.9 850.0,273.6 850.5,273.3 851.0,273.0 851.5,272.7 852.0,272.3 852.5,272.0 853.0,271.7 853.5,271.3 854.0,271.0 854.5,270.6 855.0,270.3 855.5,269.9 856.0,269.6 856.5,269.2 857.0,268.9 857.5,268.5 858.0,268.1 858.5,267.8 859.0,267.4 859.5,267.1 860.0,266.7 860.5,266.3 861.0,265.9 861.5,265.6 862.0,265.1 862.5,264.7 863.0,264.3 863.5,263.8 864.0,263.4 864.5,262.9 865.0,262.4 865.5,261.9 866.0,261.4 866.5,260.9 867.0,260.4 867.5,259.9 868.0,259.4 868.5,258.9 869.0,258.3 869.5,257.8 870.0,257.3 870.5,256.8 871.0,256.2 871.5,255.7 872.0,255.2 872.5,254.7 873.0,254.2 873.5,253.6 874.0,253.1 874.5,252.6 875.0,252.1 875.5,251.6 876.0,251.1 876.5,250.6 877.0,250.1 877.5,249.7 878.0,249.2 878.5,248.7 879.0,248.2 879.5,247.8 880.0,247.3 880.5,246.9 881.0,246.4 881.5,246.0 882.0,245.5 882.5,245.1 883.0,244.7 883.5,244.3 884.0,243.9 884.5,243.5 885.0,243.1 885.5,242.7 886.0,242.3 886.5,241.9 887.0,241.6 887.5,241.3 888.0,241.0 888.5,240.7 889.0,240.5 889.5,240.2 890.0,240.0 890.5,239.8 891.0,239.6 891.5,239.4 892.0,239.2 892.5,239.0 893.0,238.8 893.5,238.7 894.0,238.5 894.5,238.4 895.0,238.2 895.5,238.1 896.0,237.9 896.5,237.8 897.0,237.7 897.5,237.5 898.0,237.4 898.5,237.3 899.0,237.2 899.5,237.1 900.0,237.0 900.5,236.9 901.0,236.8 901.5,236.8 902.0,236.7 902.5,236.6 903.0,236.6 903.5,236.5 904.0,236.5 904.5,236.4 905.0,236.4 905.5,236.3 906.0,236.3 906.5,236.3 907.0,236.2 907.5,236.2 908.0,236.2 908.5,236.2 909.0,236.2 909.5,236.2 910.0,236.3 910.5,236.3 911.0,236.3 911.5,236.4" fill="none" stroke="#00ff00" stroke-opacity="0.5" stroke-width="1"/>
<polyline points="833.0,281.7 833.5,281.9 834.0,282.0 834.5,282.1 835.0,282.2 835.5,282.2 836.0,282.2 836.5,282.1 837.0,282.0 837.5,281.9 838.0,281.8 838.5,281.7 839.0,281.5 839.5,281.4 840.0,281.2 840.5,281.1 841.0,280.9 841.5,280.8 842.0,280.6 842.5,280.5 843.0,280.3 843.5,280.1 844.0,279.9 844.5,279.7 845.0,279.4 845.5,279.2 846.0,279.0 846.5,278.8 847.0,278.5 847.5,278.3 848.0,278.0 848.5,277.8 849.0,277.5 849.5,277.2 850.0,276.9 850.5,276.7 851.0,276.4 851.5,276.1 852.0,275.8 852.5,275.5 853.0,275.2 853.5,274.9 854.0,274.6 854.5,274.3 855.0,274.0 855.5,273.7 856.0,273.4 856.5,273.1 857.0,272.7 857.5,272.4 858.0,272.1 858.5,271.7 859.0,271.4 859.5,271.1 860.0,270.7 860.5,270.4 861.0,270.0 861.5,269.6 862.0,269.3 862.5,268.9 863.0,268.6 863.5,268.2 864.0,267.9 864.5,267.5 865.0,267.1 865.5,266.8 866.0,266.4 866.5,266.0 867.0,265.6 867.5,265.2 868.0,264.8 868.5,264.4 869.0,263.9 869.5,263.5 870.0,263.0 870.5,262.5 871.0,262.0 871.5,261.5 872.0,261.0 872.5,260.5 873.0,260.0 873.5,259.5 874.0,259.0 874.5,258.5 875.0,257.9 875.5,257.4 876.0,256.9 876.5,256.3 877.0,255.8 877.5,255.3 878.0,254.8 878.5,254.3 879.0,253.7 879.5,253.2 880.0,252.7 880.5,252.2 881.0,251.7 881.5,251.2 882.0,250.7 882.5,250.2 883.0,249.7 883.5,249.3 884.0,248.8 884.5,248.3 885.0,247.9 885.5,247.4 886.0,247.0 886.5,246.5 887.0,246.1 887.5,245.6 888.0,245.2 888.5,244.8 889.0,244.4 889.5,244.0 890.0,243.6 890.5,243.2 891.0,242.8 891.5,242.4 892.0,242.0 892.5,241.7 893.0,241.4 893.5,241.1 894.0,240.8 894.5,240.5 895.0,240.3 895.5,240.0 896.0,239.8 896.5,239.6 897.0,239.4 897.5,239.2 898.0,239.0 898.5,238.9 899.0,238.7 899.5,238.5 900.0,238.4 900.5,238.2 901.0,238.1 901.5,238.0 902.0,237.8 902.5,237.7 903.0,237.6 903.5,237.4 904.0,237.3 904.5,237.2 905.0,237.1 905.5,237.0 906.0,236.9 906.5,236.8 907.0,236.8 907.5,236.7 908.0,236.7 908.5,236.6 909.0,236.5 909.5,236.5 910.0,236.4 910.5,236.4 911.0,236.3 911.5,236.3" fill="none" stroke="#00ff00" stroke-opacity="0.5" stroke-width="1"/>
<polygon points="911.5,236.4 912.0,236.4 912.5,236.5 913.0,236.6 913.5,236.6 914.0,236.7 914.5,236.8 915.0,236.9 915.5,237.0 916.0,237.0 916.5,237.1 917.0,237.2 917.5,237.3 918.0,237.4 918.5,237.5 919.0,237.6 919.5,237.7 920.0,237.8 920.5,237.9 921.0,238.1 921.5,238.2 922.0,238.3 922.5,238.5 923.0,238.6 923.5,238.8 924.0,238.9 924.5,239.1 925.0,239.2 925.5,239.4 926.0,239.5 926.5,239.7 927.0,239.8 927.5,240.0 928.0,240.1 928.5,240.3 929.0,240.5 929.5,240.7 930.0,240.9 930.5,241.1 931.0,241.3 931.5,241.5 932.0,241.7 932.5,242.0 933.0,242.2 933.5,242.5 934.0,242.8 934.5,243.1 935.0,243.4 935.5,243.8 936.0,244.2 936.5,244.5 937.0,244.9 937.5,245.3 938.0,245.8 938.5,246.2 939.0,246.6 939.5,247.1 940.0,247.5 940.5,248.0 941.0,248.5 941.5,249.0 942.0,249.5 942.5,250.0 943.0,250.6 943.5,251.2 944.0,251.7 944.5,252.3 945.0,252.9 945.5,253.5 946.0,254.1 946.5,254.7 947.0,255.4 947.5,256.0 948.0,256.6 948.5,257.2 949.0,257.8 949.5,258.4 950.0,259.1 950.5,259.7 951.0,260.3 951.5,261.0 952.0,261.6 952.5,262.3 953.0,262.9 953.5,263.6 954.0,264.2 954.5,264.8 955.0,265.5 955.5,266.1 956.0,266.7 956.5,267.3 957.0,267.9 957.5,268.5 958.0,269.1 958.5,269.7 959.0,270.3 959.5,270.9 960.0,271.5 960.5,272.1 961.0,272.7 961.5,273.3 962.0,273.9 962.5,274.5 963.0,275.1 963.5,275.8 964.0,276.4 964.5,277.0 965.0,277.7 965.5,278.3 966.0,279.0 966.5,279.7 967.0,280.3 967.5,281.0 968.0,281.6 968.5,282.3 969.0,282.9 969.5,283.5 970.0,284.1 970.5,284.7 971.0,285.3 971.5,285.9 972.0,286.5 972.5,287.0 973.0,287.6 973.5,288.2 974.0,288.7 974.5,289.3 975.0,289.8 975.5,290.3 976.0,290.9 976.5,291.4 977.0,291.9 977.5,292.5 978.0,293.0 978.5,293.5 979.0,294.1 979.5,294.6 980.0,295.1 980.5,295.6 981.0,296.1 981.5,296.6 982.0,297.1 982.5,297.6 983.0,298.1 983.5,298.6 984.0,299.1 984.5,299.6 985.0,300.1 985.5,300.6 986.0,301.1 986.5,301.6 987.0,302.1 987.5,302.6 988.0,303.1 988.3,303.4 988.3,297.8 988.0,297.5 987.5,297.0 987.0,296.5 986.5,296.0 986.0,295.5 985.5,295.0 985.0,294.5 984.5,293.9 984.0,293.4 983.5,292.9 983.0,292.4 982.5,291.8 982.0,291.3 981.5,290.8 981.0,290.2 980.5,289.7 980.0,289.1 979.5,288.6 979.0,288.0 978.5,287.5 978.0,286.9 977.5,286.3 977.0,285.8 976.5,285.2 976.0,284.6 975.5,284.0 975.0,283.4 974.5,282.8 974.0,282.1 973.5,281.5 973.0,280.8 972.5,280.2 972.0,279.5 971.5,278.9 971.0,278.2 970.5,277.6 970.0,276.9 969.5,276.3 969.0,275.6 968.5,275.0 968.0,274.4 967.5,273.8 967.0,273.2 966.5,272.6 966.0,272.0 965.5,271.4 965.0,270.8 964.5,270.2 964.0,269.6 963.5,269.0 963.0,268.4 962.5,267.8 962.0,267.2 961.5,266.6 961.0,265.9 960.5,265.3 960.0,264.7 959.5,264.1 959.0,263.4 958.5,262.8 958.0,262.1 957.5,261.5 957.0,260.8 956.5,260.2 956.0,259.6 955.5,258.9 955.0,258.3 954.5,257.7 954.0,257.0 953.5,256.4 953.0,255.8 952.5,255.2 952.0,254.6 951.5,254.0 951.0,253.4 950.5,252.8 950.0,252.2 949.5,251.6 949.0,251.0 948.5,250.5 948.0,249.9 947.5,249.4 947.0,248.9 946.5,248.4 946.0,247.9 945.5,247.4 945.0,247.0 944.5,246.5 944.0,246.1 943.5,245.7 943.0,245.3 942.5,244.9 942.0,244.5 941.5,244.1 941.0,243.7 940.5,243.4 940.0,243.0 939.5,242.7 939.0,242.4 938.5,242.2 938.0,241.9 937.5,241.7 937.0,241.4 936.5,241.2 936.0,241.0 935.5,240.8 935.0,240.6 934.5,240.5 934.0,240.3 933.5,240.1 933.0,239.9 932.5,239.8 932.0,239.6 931.5,239.5 931.0,239.3 930.5,239.2 930.0,239.0 929.5,238.9 929.0,238.7 928.5,238.6 928.0,238.4 927.5,238.3 927.0,238.2 926.5,238.0 926.0,237.9 925.5,237.8 925.0,237.7 924.5,237.6 924.0,237.5 923.5,237.4 923.0,237.3 922.5,237.2 922.0,237.1 921.5,237.0 921.0,236.9 920.5,236.9 920.0,236.8 919.5,236.7 919.0,236.6 918.5,236.6 918.0,236.5 917.5,236.4 917.0,236.4 916.5,236.3 916.0,236.3 915.5,236.2 915.0,236.2 914.5,236.2 914.0,236.2 913.5,236.2 913.0,236.2 912.5,236.2 912.0,236.3 911.5,236.3" fill="#ff0000" fill-opacity="0.6"/>
<polyline points="911.5,236.4 912.0,236.4 912.5,236.5 913.0,236.6 913.5,236.6 914.0,236.7 914.5,236.8 915.0,236.9 915.5,237.0 916.0,237.0 916.5,237.1 917.0,237.2 917.5,237.3 918.0,237.4 918.5,237.5 919.0,237.6 919.5,237.7 920.0,237.8 920.5,237.9 921.0,238.1 921.5,238.2 922.0,238.3 922.5,238.5 923.0,238.6 923.5,238.8 924.0,238.9 924.5,239.1 925.0,239.2 925.5,239.4 926.0,239.5 926.5,239.7 927.0,239.8 927.5,240.0 928.0,240.1 928.5,240.3 929.0,240.5 929.5,240.7 930.0,240.9 930.5,241.1 931.0,241.3 931.5,241.5 932.0,241.7 932.5,242.0 933.0,242.2 933.5,242.5 934.0,242.8 934.5,243.1 935.0,243.4 935.5,243.8 936.0,244.2 936.5,244.5 937.0,244.9 937.5,245.3 938.0,245.8 938.5,246.2 939.0,246.6 939.5,247.1 940.0,247.5 940.5,248.0 941.0,248.5 941.5,249.0 942.0,249.5 942.5,250.0 943.0,250.6 943.5,251.2 944.0,251.7 944.5,252.3 945.0,252.9 945.5,253.5 946.0,254.1 946.5,254.7 947.0,255.4 947.5,256.0 948.0,256.6 948.5,257.2 949.0,257.8 949.5,258.4 950.0,259.1 950.5,259.7 951.0,260.3 951.5,261.0 952.0,261.6 952.5,262.3 953.0,262.9 953.5,263.6 954.0,264.2 954.5,264.8 955.0,265.5 955.5,266.1 956.0,266.7 956.5,267.3 957.0,267.9 957.5,268.5 958.0,269.1 958.5,269.7 959.0,270.3 959.5,270.9 960.0,271.5 960.5,272.1 961.0,272.7 961.5,273.3 962.0,273.9 962.5,274.5 963.0,275.1 963.5,275.8 964.0,276.4 964.5,277.0 965.0,277.7 965.5,278.3 966.0,279.0 966.5,279.7 967.0,280.3 967.5,281.0 968.0,281.6 968.5,282.3 969.0,282.9 969.5,283.5 970.0,284.1 970.5,284.7 971.0,285.3 971.5,285.9 972.0,286.5 972.5,287.0 973.0,287.6 973.5,288.2 974.0,288.7 974.5,289.3 975.0,289.8 975.5,290.3 976.0,290.9 976.5,291.4 977.0,291.9 977.5,292.5 978.0,293.0 978.5,293.5 979.0,294.1 979.5,294.6 980.0,295.1 980.5,295.6 981.0,296.1 981.5,296.6 982.0,297.1 982.5,297.6 983.0,298.1 983.5,298.6 984.0,299.1 984.5,299.6 985.0,300.1 985.5,300.6 986.0,301.1 986.5,301.6 987.0,302.1 987.5,302.6 988.0,303.1 988.3,303.4" fill="none" stroke="#ff0000" stroke-opacity="0.5" stroke-width="1"/>
<polyline points="911.5,236.3 912.0,236.3 912.5,236.2 913.0,236.2 913.5,236.2 914.0,236.2 914.5,236.2 915.0,236.2 915.5,236.2 916.0,236.3 916.5,236.3 917.0,236.4 917.5,236.4 918.0,236.5 918.5,236.6 919.0,236.6 919.5,236.7 920.0,236.8 920.5,236.9 921.0,236.9 921.5,237.0 922.0,237.1 922.5,237.2 923.0,237.3 923.5,237.4 924.0,237.5 924.5,237.6 925.0,237.7 925.5,237.8 926.0,237.9 926.5,238.0 927.0,238.2 927.5,238.3 928.0,238.4 928.5,238.6 929.0,238.7 929.5,238.9 930.0,239.0 930.5,239.2 931.0,239.3 931.5,239.5 932.0,239.6 932.5,239.8 933.0,239.9 933.5,240.1 934.0,240.3 934.5,240.5 935.0,240.6 935.5,240.8 936.0,241.0 936.5,241.2 937.0,241.4 937.5,241.7 938.0,241.9 938.5,242.2 939.0,242.4 939.5,242.7 940.0,243.0 940.5,243.4 941.0,243.7 941.5,244.1 942.0,244.5 942.5,244.9 943.0,245.3 943.5,245.7 944.0,246.1 944.5,246.5 945.0,247.0 945.5,247.4 946.0,247.9 946.5,248.4 947.0,248.9 947.5,249.4 948.0,249.9 948.5,250.5 949.0,251.0 949.5,251.6 950.0,252.2 950.5,252.8 951.0,253.4 951.5,254.0 952.0,254.6 952.5,255.2 953.0,255.8 953.5,256.4 954.0,257.0 954.5,257.7 955.0,258.3 955.5,258.9 956.0,259.6 956.5,260.2 957.0,260.8 957.5,261.5 958.0,262.1 958.5,262.8 959.0,263.4 959.5,264.1 960.0,264.7 960.5,265.3 961.0,265.9 961.5,266.6 962.0,267.2 962.5,267.8 963.0,268.4 963.5,269.0 964.0,269.6 964.5,270.2 965.0,270.8 965.5,271.4 966.0,272.0 966.5,272.6 967.0,273.2 967.5,273.8 968.0,274.4 968.5,275.0 969.0,275.6 969.5,276.3 970.0,276.9 970.5,277.6 971.0,278.2 971.5,278.9 972.0,279.5 972.5,280.2 973.0,280.8 973.5,281.5 974.0,282.1 974.5,282.8 975.0,283.4 975.5,284.0 976.0,284.6 976.5,285.2 977.0,285.8 977.5,286.3 978.0,286.9 978.5,287.5 979.0,288.0 979.5,288.6 980.0,289.1 980.5,289.7 981.0,290.2 981.5,290.8 982.0,291.3 982.5,291.8 983.0,292.4 983.5,292.9 984.0,293.4 984.5,293.9 985.0,294.5 985.5,295.0 986.0,295.5 986.5,296.0 987.0,296.5 987.5,297.0 988.0,297.5 988.3,297.8" fill="none" stroke="#ff0000" stroke-opacity="0.5" stroke-width="1"/>
<line x1="11" x2="1203.5" y1="313.5" y2="313.5" stroke="#26a69a" stroke-width="1" stroke-dasharray="1 2"/>
</g>
<g font-size="14.8" fill="#f23645" class="b" color="#f23645">
<text x="816.6" y="180.6" textLength="73.4" lengthAdjust="spacingAndGlyphs">Resistance</text>
<text x="896.9" y="180.6" textLength="36.5" lengthAdjust="spacingAndGlyphs">Level</text>
<text x="840" y="322.9" textLength="54.3" lengthAdjust="spacingAndGlyphs">Support</text>
<text x="901.2" y="322.9" textLength="36.8" lengthAdjust="spacingAndGlyphs">Level</text>
</g>
<g transform="translate(988.5,365.3)"><circle r="9.5" fill="#fff" stroke="#9c27b0" stroke-width="1.5"/><path d="M3.2 -5.2L-4.6 0.35L-0.4 0.6L-3.2 5.4L4.6 -0.35L0.4 -0.6z" fill="#9c27b0"/></g>
<g font-size="12" fill="#131722" color="#131722">
<text x="18.2" y="45.8" textLength="41.3" lengthAdjust="spacingAndGlyphs">POLUSD</text>
<text x="71.8" y="45.8" textLength="41.2" lengthAdjust="spacingAndGlyphs">Polygon</text>
<text x="116.8" y="45.8" textLength="54.3" lengthAdjust="spacingAndGlyphs">Ecosystem</text>
<text x="174.9" y="45.8" textLength="30.9" lengthAdjust="spacingAndGlyphs">Token</text>
<text x="211" y="45.8" textLength="4.2" lengthAdjust="spacingAndGlyphs">/</text>
<text x="220.5" y="45.8" textLength="12.5" lengthAdjust="spacingAndGlyphs">US</text>
<text x="237.3" y="45.8" textLength="30.9" lengthAdjust="spacingAndGlyphs">Dollar</text>
<text x="281.1" y="45.8" textLength="12.0" lengthAdjust="spacingAndGlyphs">4h</text>
<text x="305.2" y="45.8" textLength="47.2" lengthAdjust="spacingAndGlyphs">Coinbase</text>
<text x="360.6" y="45.8" textLength="7.2" lengthAdjust="spacingAndGlyphs">O</text>
<text x="412.1" y="45.8" textLength="6.4" lengthAdjust="spacingAndGlyphs">H</text>
<text x="463.1" y="45.8" textLength="4.9" lengthAdjust="spacingAndGlyphs">L</text>
<text x="512.2" y="45.8" textLength="5.5" lengthAdjust="spacingAndGlyphs">C</text>
<circle cx="65.4" cy="41.7" r="1.15" fill="#131722"/>
<circle cx="274.7" cy="41.7" r="1.15" fill="#131722"/>
<circle cx="299.2" cy="41.7" r="1.15" fill="#131722"/>
<text x="368.7" y="45.8" color="#26a69a" textLength="35.2" lengthAdjust="spacingAndGlyphs">0.1508</text>
<text x="419.4" y="45.8" color="#26a69a" textLength="35.1" lengthAdjust="spacingAndGlyphs">0.1513</text>
<text x="468.8" y="45.8" color="#26a69a" textLength="35.2" lengthAdjust="spacingAndGlyphs">0.1494</text>
<text x="518.6" y="45.8" color="#26a69a" textLength="35.2" lengthAdjust="spacingAndGlyphs">0.1508</text>
<text x="562" y="45.8" color="#26a69a" textLength="34.7" lengthAdjust="spacingAndGlyphs">0.0000</text>
<text x="602.7" y="45.8" color="#26a69a" textLength="37.0" lengthAdjust="spacingAndGlyphs">(0.00%)</text>
<text x="18.2" y="62.9" textLength="21.8" lengthAdjust="spacingAndGlyphs">Hull</text>
<text x="43.5" y="62.9" textLength="25.7" lengthAdjust="spacingAndGlyphs">Suite</text>
<text x="74.4" y="62.9" textLength="11.2" lengthAdjust="spacingAndGlyphs">by</text>
<text x="90.4" y="62.9" textLength="38.1" lengthAdjust="spacingAndGlyphs">InSilico</text>
<text x="132.8" y="62.9" textLength="34.3" lengthAdjust="spacingAndGlyphs">(close,</text>
<text x="172.3" y="62.9" textLength="24.9" lengthAdjust="spacingAndGlyphs">Hma,</text>
<text x="203.7" y="62.9" textLength="15.0" lengthAdjust="spacingAndGlyphs">51,</text>
<text x="225.6" y="62.9" textLength="15.2" lengthAdjust="spacingAndGlyphs">1.5,</text>
<text x="250.2" y="62.9" textLength="21.5" lengthAdjust="spacingAndGlyphs">240,</text>
<text x="278.2" y="62.9" textLength="7.2" lengthAdjust="spacingAndGlyphs">1,</text>
<text x="290.6" y="62.9" textLength="16.3" lengthAdjust="spacingAndGlyphs">40)</text>
<text x="315.1" y="62.9" color="#ff0000" textLength="35.6" lengthAdjust="spacingAndGlyphs">0.1544</text>
<text x="358.4" y="62.9" color="#ff0000" textLength="35.2" lengthAdjust="spacingAndGlyphs">0.1566</text>
</g>
<g clip-path="url(#cs)">
<line x1="10.5" x2="1203.5" y1="428.5" y2="428.5" stroke="#e4e4e4" stroke-width="1" stroke-dasharray="3 3"/>
<path d="M11 420h1V429h-1zM14 420h1V429h-1zM151 419h1V429h-1zM154 415h1V429h-1zM156 410h1V429h-1zM159 414h1V429h-1zM162 415h1V429h-1zM165 413h1V429h-1zM167 408h1V429h-1zM170 416h1V429h-1zM173 417h1V429h-1zM176 416h1V429h-1zM178 411h1V429h-1zM181 407h1V429h-1zM184 407h1V429h-1zM187 410h1V429h-1zM189 414h1V429h-1zM192 414h1V429h-1zM195 419h1V429h-1zM220 418h1V429h-1zM222 408h1V429h-1zM225 401h1V429h-1zM228 396h1V429h-1zM231 392h1V429h-1zM233 397h1V429h-1zM236 389h1V429h-1zM239 394h1V429h-1zM241 394h1V429h-1zM244 394h1V429h-1zM247 405h1V429h-1zM250 410h1V429h-1zM252 414h1V429h-1zM255 409h1V429h-1zM258 409h1V429h-1zM261 411h1V429h-1zM305 412h1V429h-1zM307 405h1V429h-1zM310 401h1V429h-1zM313 404h1V429h-1zM316 411h1V429h-1zM318 411h1V429h-1zM414 424h1V429h-1zM417 423h1V429h-1zM420 418h1V429h-1zM423 411h1V429h-1zM425 409h1V429h-1zM428 415h1V429h-1zM516 420h1V429h-1zM519 414h1V429h-1zM521 408h1V429h-1zM524 407h1V429h-1zM527 402h1V429h-1zM530 398h1V429h-1zM532 395h1V429h-1zM535 397h1V429h-1zM538 399h1V429h-1zM541 399h1V429h-1zM543 410h1V429h-1zM546 419h1V429h-1zM551 417h1V429h-1zM554 417h1V429h-1zM598 423h1V429h-1zM606 422h1V429h-1zM609 424h1V429h-1zM617 422h1V429h-1zM620 417h1V429h-1zM623 420h1V429h-1zM626 417h1V429h-1zM628 410h1V429h-1zM631 404h1V429h-1zM634 403h1V429h-1zM637 402h1V429h-1zM639 398h1V429h-1zM642 398h1V429h-1zM645 406h1V429h-1zM648 413h1V429h-1zM650 416h1V429h-1zM733 420h1V429h-1zM735 414h1V429h-1zM738 416h1V429h-1zM741 411h1V429h-1zM744 408h1V429h-1zM746 418h1V429h-1zM752 424h1V429h-1zM823 423h1V429h-1zM826 424h1V429h-1zM829 419h1V429h-1zM831 411h1V429h-1zM834 407h1V429h-1zM837 402h1V429h-1zM840 404h1V429h-1zM842 403h1V429h-1zM845 411h1V429h-1zM848 416h1V429h-1zM851 417h1V429h-1zM861 424h1V429h-1zM864 419h1V429h-1zM867 419h1V429h-1zM870 417h1V429h-1zM872 417h1V429h-1zM875 415h1V429h-1zM878 418h1V429h-1zM881 420h1V429h-1zM883 419h1V429h-1zM886 416h1V429h-1z" fill="#00c3ff"/>
<path d="M25 428h1V444h-1zM28 428h1V451h-1zM30 428h1V453h-1zM33 428h1V449h-1zM36 428h1V444h-1zM38 428h1V442h-1zM47 428h1V443h-1zM55 428h1V446h-1zM58 428h1V448h-1zM60 428h1V450h-1zM63 428h1V454h-1zM66 428h1V461h-1zM69 428h1V468h-1zM71 428h1V471h-1zM74 428h1V472h-1zM77 428h1V475h-1zM80 428h1V470h-1zM82 428h1V466h-1zM85 428h1V461h-1zM88 428h1V459h-1zM91 428h1V458h-1zM93 428h1V460h-1zM96 428h1V457h-1zM99 428h1V457h-1zM121 428h1V456h-1zM124 428h1V458h-1zM126 428h1V462h-1zM129 428h1V466h-1zM132 428h1V462h-1zM135 428h1V461h-1zM137 428h1V462h-1zM269 428h1V431h-1zM272 428h1V436h-1zM274 428h1V441h-1zM277 428h1V439h-1zM327 428h1V436h-1zM329 428h1V442h-1zM332 428h1V441h-1zM335 428h1V441h-1zM338 428h1V440h-1zM348 428h1V434h-1zM351 428h1V434h-1zM354 428h1V436h-1zM357 428h1V441h-1zM359 428h1V439h-1zM362 428h1V435h-1zM365 428h1V436h-1zM370 428h1V438h-1zM373 428h1V446h-1zM376 428h1V456h-1zM379 428h1V458h-1zM381 428h1V461h-1zM384 428h1V460h-1zM387 428h1V458h-1zM390 428h1V461h-1zM392 428h1V461h-1zM395 428h1V462h-1zM398 428h1V456h-1zM401 428h1V453h-1zM403 428h1V445h-1zM455 428h1V437h-1zM458 428h1V441h-1zM461 428h1V441h-1zM464 428h1V442h-1zM469 428h1V443h-1zM472 428h1V448h-1zM475 428h1V451h-1zM477 428h1V446h-1zM480 428h1V451h-1zM483 428h1V448h-1zM486 428h1V444h-1zM488 428h1V442h-1zM491 428h1V441h-1zM562 428h1V434h-1zM565 428h1V437h-1zM568 428h1V441h-1zM571 428h1V446h-1zM573 428h1V449h-1zM576 428h1V451h-1zM579 428h1V445h-1zM582 428h1V443h-1zM584 428h1V440h-1zM587 428h1V434h-1zM667 428h1V437h-1zM669 428h1V445h-1zM672 428h1V452h-1zM675 428h1V449h-1zM678 428h1V441h-1zM680 428h1V441h-1zM683 428h1V432h-1zM686 428h1V434h-1zM689 428h1V434h-1zM691 428h1V436h-1zM694 428h1V441h-1zM697 428h1V449h-1zM700 428h1V456h-1zM702 428h1V453h-1zM705 428h1V451h-1zM708 428h1V446h-1zM711 428h1V439h-1zM713 428h1V438h-1zM716 428h1V439h-1zM719 428h1V441h-1zM722 428h1V439h-1zM757 428h1V438h-1zM760 428h1V442h-1zM763 428h1V451h-1zM765 428h1V456h-1zM768 428h1V459h-1zM771 428h1V457h-1zM774 428h1V458h-1zM776 428h1V455h-1zM779 428h1V453h-1zM782 428h1V456h-1zM785 428h1V453h-1zM787 428h1V449h-1zM790 428h1V446h-1zM793 428h1V444h-1zM897 428h1V440h-1zM900 428h1V446h-1zM903 428h1V445h-1zM905 428h1V445h-1zM908 428h1V439h-1zM911 428h1V439h-1zM914 428h1V444h-1zM916 428h1V445h-1zM919 428h1V441h-1zM922 428h1V435h-1zM927 428h1V432h-1zM930 428h1V442h-1zM933 428h1V443h-1zM936 428h1V445h-1zM938 428h1V445h-1zM941 428h1V449h-1zM944 428h1V450h-1zM947 428h1V455h-1zM949 428h1V460h-1zM952 428h1V455h-1zM955 428h1V453h-1zM958 428h1V453h-1zM960 428h1V450h-1zM963 428h1V445h-1zM966 428h1V444h-1zM968 428h1V441h-1zM971 428h1V437h-1zM974 428h1V440h-1zM977 428h1V446h-1zM979 428h1V450h-1zM982 428h1V451h-1zM985 428h1V450h-1zM988 428h1V448h-1z" fill="#ff0062"/>
<path d="M19 428h1V432h-1zM22 428h1V438h-1zM41 428h1V440h-1zM44 428h1V441h-1zM49 428h1V441h-1zM52 428h1V441h-1zM102 428h1V451h-1zM104 428h1V446h-1zM107 428h1V441h-1zM110 428h1V439h-1zM113 428h1V441h-1zM115 428h1V447h-1zM118 428h1V453h-1zM140 428h1V451h-1zM143 428h1V443h-1zM145 428h1V434h-1zM203 428h1V431h-1zM206 428h1V439h-1zM209 428h1V438h-1zM211 428h1V435h-1zM214 428h1V436h-1zM263 418h1V429h-1zM266 423h1V429h-1zM283 419h1V429h-1zM285 420h1V429h-1zM288 422h1V429h-1zM302 419h1V429h-1zM321 423h1V429h-1zM406 428h1V436h-1zM436 428h1V432h-1zM453 428h1V434h-1zM466 428h1V436h-1zM494 428h1V435h-1zM497 428h1V431h-1zM590 428h1V432h-1zM593 428h1V432h-1zM653 422h1V429h-1zM724 428h1V436h-1zM755 428h1V432h-1zM796 428h1V438h-1zM798 428h1V432h-1zM809 428h1V433h-1zM812 428h1V439h-1zM815 428h1V441h-1zM818 428h1V441h-1zM820 428h1V433h-1zM894 428h1V434h-1z" fill="#8a8a8a"/>
</g>
<g font-size="12" fill="#131722" color="#131722">
<text x="18.2" y="398" textLength="22.4" lengthAdjust="spacingAndGlyphs">QQE</text>
<text x="44.3" y="398" textLength="24.1" lengthAdjust="spacingAndGlyphs">MOD</text>
<text x="73.2" y="398" textLength="13.2" lengthAdjust="spacingAndGlyphs">(6,</text>
<text x="90.7" y="398" textLength="9.5" lengthAdjust="spacingAndGlyphs">5,</text>
<text x="105.3" y="398" textLength="9.5" lengthAdjust="spacingAndGlyphs">3,</text>
<text x="119.9" y="398" textLength="9.5" lengthAdjust="spacingAndGlyphs">3,</text>
<text x="133.6" y="398" textLength="30.1" lengthAdjust="spacingAndGlyphs">close,</text>
<text x="168.9" y="398" textLength="8.5" lengthAdjust="spacingAndGlyphs">6,</text>
<text x="183.4" y="398" textLength="9.5" lengthAdjust="spacingAndGlyphs">5,</text>
<text x="198" y="398" textLength="26.7" lengthAdjust="spacingAndGlyphs">1.61,</text>
<text x="228.7" y="398" textLength="9.5" lengthAdjust="spacingAndGlyphs">3,</text>
<text x="243.3" y="398" textLength="30.1" lengthAdjust="spacingAndGlyphs">close,</text>
<text x="278.9" y="398" textLength="15.1" lengthAdjust="spacingAndGlyphs">50,</text>
<text x="299.1" y="398" textLength="26.7" lengthAdjust="spacingAndGlyphs">0.35)</text>
<text x="390.2" y="398" color="#6e6e6e" textLength="48.3" lengthAdjust="spacingAndGlyphs">−16.5008</text>
<text x="445.7" y="398" color="#444">∅</text>
<text x="465" y="398" color="#ff0062" textLength="48.0" lengthAdjust="spacingAndGlyphs">−16.5008</text>
</g>
<path d="M10.5 378.5H1270.5M10.5 483.5H1270.5M1203.5 26.5V511.5" stroke="#e0e1e6" stroke-width="1" fill="none"/>
<rect x="10.1" y="26.6" width="1260.9" height="484.3" fill="none" stroke="#eeeeee" stroke-width="1.6"/>
<g clip-path="url(#ca)" font-size="12">
<text x="1212" y="184.8" color="#131722">0.2000</text>
<text x="1212" y="238.8" color="#131722">0.1800</text>
<g clip-path="url(#cb)">
<text x="1212" y="384.9" color="#131722">40.0000</text>
<text x="1212" y="431.3" color="#131722">0.0000</text>
</g>
<path d="M1204.0 61h46.5a2.5 2.5 0 0 1 2.5 2.5v12a2.5 2.5 0 0 1 -2.5 2.5h-46.5z" fill="#2962ff"/>
<text x="1212" y="73.9" color="#fff" fill-opacity="1" class="sb">0.2414</text>
<path d="M1204.0 118h46.5a2.5 2.5 0 0 1 2.5 2.5v12a2.5 2.5 0 0 1 -2.5 2.5h-46.5z" fill="#2962ff"/>
<text x="1212" y="130.9" color="#fff" fill-opacity="1" class="sb">0.2200</text>
<path d="M1204.0 182h46.5a2.5 2.5 0 0 1 2.5 2.5v12a2.5 2.5 0 0 1 -2.5 2.5h-46.5z" fill="#2962ff"/>
<text x="1212" y="194.9" color="#fff" fill-opacity="1" class="sb">0.1965</text>
<path d="M1204.0 254h46.5a2.5 2.5 0 0 1 2.5 2.5v12a2.5 2.5 0 0 1 -2.5 2.5h-46.5z" fill="#2962ff"/>
<text x="1212" y="266.9" color="#fff" fill-opacity="1" class="sb">0.1657</text>
<path d="M1204.0 271h46.5a2.5 2.5 0 0 1 2.5 2.5v12a2.5 2.5 0 0 1 -2.5 2.5h-46.5z" fill="#ff0000"/>
<text x="1212" y="283.9" color="#fff" fill-opacity="1" class="sb">0.1566</text>
<path d="M1204.0 288h46.5a2.5 2.5 0 0 1 2.5 2.5v12a2.5 2.5 0 0 1 -2.5 2.5h-46.5z" fill="#ff0000"/>
<text x="1212" y="300.9" color="#fff" fill-opacity="1" class="sb">0.1544</text>
<path d="M1204.0 305h57.5a2.5 2.5 0 0 1 2.5 2.5v25.3a2.5 2.5 0 0 1 -2.5 2.5h-57.5z" fill="#26a69a"/>
<text x="1212" y="317.9" color="#fff" fill-opacity="1" class="sb">0.1508</text>
<text x="1212" y="331.5" color="#fff" fill-opacity="0.75">01:41:03</text>
<path d="M1204.0 336h46.5a2.5 2.5 0 0 1 2.5 2.5v12a2.5 2.5 0 0 1 -2.5 2.5h-46.5z" fill="#2962ff"/>
<text x="1212" y="348.9" color="#fff" fill-opacity="1" class="sb">0.1460</text>
<path d="M1204.0 408h46.5a2.5 2.5 0 0 1 2.5 2.5v12a2.5 2.5 0 0 1 -2.5 2.5h-46.5z" fill="#00c3ff"/>
<text x="1212" y="420.5" color="#000" fill-opacity="1">9.6832</text>
<text x="1212" y="449" color="#131722">−14.7709</text>
<path d="M1204.0 454.4h59.5a2.5 2.5 0 0 1 2.5 2.5v11.2a2.5 2.5 0 0 1 -2.5 2.5h-59.5z" fill="#757575"/>
<text x="1212" y="466" color="#fff" fill-opacity="1">−16.5008</text>
<path d="M1204.0 470.6h59.5a2.5 2.5 0 0 1 2.5 2.5v12a2.5 2.5 0 0 1 -2.5 2.5h-59.5z" fill="#ff0062"/>
<text x="1212" y="483" color="#fff" fill-opacity="1">−16.5008</text>
</g>
<path d="M1203 305h-47a3 3 0 0 0 -3 3v11a3 3 0 0 0 3 3h47z" fill="#26a69a"/>
<text x="1158" y="317.9" font-size="12" color="#fff" textLength="41" lengthAdjust="spacingAndGlyphs">POLUSD</text>
<rect x="1207.5" y="30.5" width="60" height="27" rx="4" fill="#fff" stroke="#ebebeb"/>
<text x="1216.5" y="47.8" font-size="12" color="#131722" textLength="19.5" lengthAdjust="spacingAndGlyphs">USD</text>
<g font-size="12" fill="#131722" text-anchor="middle" color="#131722">
<text x="49.3" y="501" textLength="11.2" lengthAdjust="spacingAndGlyphs">21</text>
<text x="115.3" y="501" textLength="11.2" lengthAdjust="spacingAndGlyphs">25</text>
<text x="215.5" y="501" textLength="19.6" lengthAdjust="spacingAndGlyphs" font-weight="bold" class="b">Oct</text>
<text x="279.3" y="501" textLength="5.6" lengthAdjust="spacingAndGlyphs">5</text>
<text x="345.3" y="501" textLength="5.6" lengthAdjust="spacingAndGlyphs">9</text>
<text x="411.3" y="501" textLength="11.2" lengthAdjust="spacingAndGlyphs">13</text>
<text x="477.3" y="501" textLength="11.2" lengthAdjust="spacingAndGlyphs">17</text>
<text x="543.3" y="501" textLength="11.2" lengthAdjust="spacingAndGlyphs">21</text>
<text x="609.3" y="501" textLength="11.2" lengthAdjust="spacingAndGlyphs">25</text>
<text x="722.5" y="501" textLength="19.6" lengthAdjust="spacingAndGlyphs" font-weight="bold" class="b">Nov</text>
<text x="787.3" y="501" textLength="5.6" lengthAdjust="spacingAndGlyphs">5</text>
<text x="853.3" y="501" textLength="5.6" lengthAdjust="spacingAndGlyphs">9</text>
<text x="919.3" y="501" textLength="11.2" lengthAdjust="spacingAndGlyphs">13</text>
<text x="984.3" y="501" textLength="11.2" lengthAdjust="spacingAndGlyphs">17</text>
<text x="1050.3" y="501" textLength="11.2" lengthAdjust="spacingAndGlyphs">21</text>
<text x="1116.3" y="501" textLength="11.2" lengthAdjust="spacingAndGlyphs">25</text>
</g>
<g fill="#131722" color="#131722"><path d="M12 533h12.1v14.9h-6.2v-8.9h-5.9z"/><circle cx="29" cy="535.9" r="3"/><path d="M35 533h6.8l-5.2 14.9h-7.2z"/><text x="49" y="548" font-size="21" font-weight="bold" class="b" textLength="120.5" lengthAdjust="spacingAndGlyphs">TradingView</text></g></svg></body></html>
